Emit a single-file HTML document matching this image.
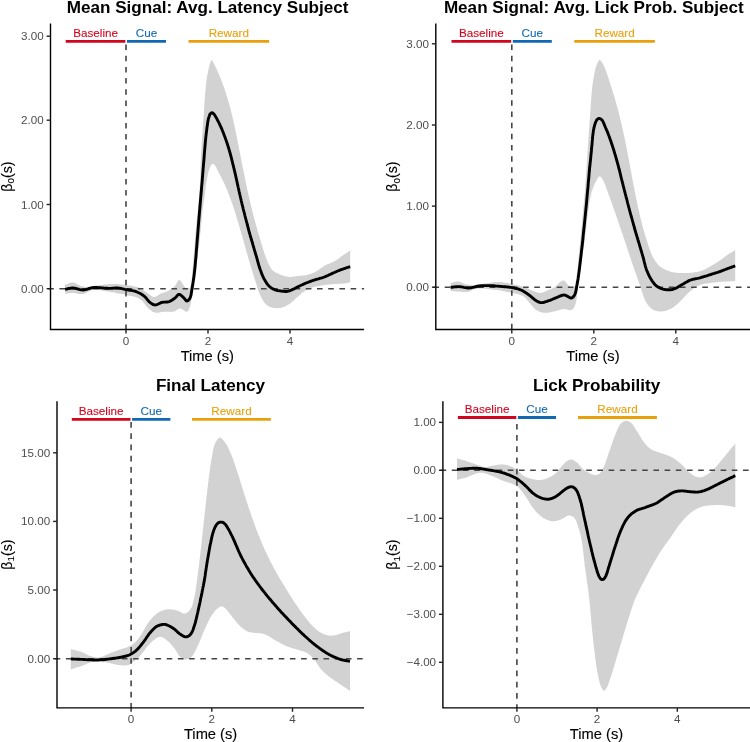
<!DOCTYPE html>
<html><head><meta charset="utf-8"><title>Figure</title>
<style>html,body{margin:0;padding:0;background:#fff}svg{display:block;will-change:transform}text{paint-order:stroke}.t{stroke:none}.a{stroke:#000;stroke-width:.12px}</style></head>
<body>
<svg width="750" height="742" viewBox="0 0 750 742" font-family="'Liberation Sans', Arial, sans-serif">
<rect width="750" height="742" fill="#fff"/>
<g>
<path d="M65.0 285.0 L66.0 284.6 L67.0 284.2 L68.0 283.8 L69.0 283.3 L70.1 282.9 L71.0 282.6 L72.0 282.4 L73.0 282.4 L73.9 282.5 L74.8 282.8 L75.7 283.3 L76.6 283.8 L77.4 284.3 L78.3 284.8 L79.1 285.2 L80.0 285.6 L80.8 285.9 L81.5 286.1 L82.2 286.3 L82.9 286.5 L83.6 286.7 L84.4 286.8 L85.2 286.9 L86.0 287.0 L87.1 287.0 L88.3 286.9 L89.5 286.7 L90.7 286.5 L92.0 286.3 L93.3 286.0 L94.6 285.8 L96.0 285.6 L97.8 285.4 L99.8 285.1 L101.8 284.9 L103.8 284.6 L105.9 284.4 L108.0 284.2 L110.0 284.1 L112.0 284.0 L113.8 284.0 L115.6 284.0 L117.3 284.1 L119.1 284.2 L120.8 284.4 L122.5 284.6 L124.3 284.8 L126.0 285.0 L127.8 285.3 L129.7 285.5 L131.5 285.8 L133.4 286.2 L135.2 286.6 L137.0 287.0 L138.6 287.5 L140.0 288.0 L140.9 288.4 L141.7 288.9 L142.4 289.4 L143.1 289.9 L143.8 290.4 L144.5 290.9 L145.2 291.5 L146.0 292.0 L146.9 292.7 L147.9 293.4 L149.0 294.2 L150.0 295.1 L151.0 295.8 L152.0 296.4 L153.0 296.8 L154.0 297.0 L154.8 296.9 L155.5 296.7 L156.3 296.3 L157.0 295.9 L157.7 295.4 L158.4 294.9 L159.2 294.4 L160.0 294.0 L160.9 293.6 L161.9 293.3 L163.0 292.9 L164.0 292.6 L165.1 292.2 L166.1 291.8 L167.1 291.4 L168.0 291.0 L168.8 290.6 L169.6 290.1 L170.4 289.7 L171.1 289.2 L171.9 288.7 L172.6 288.2 L173.3 287.6 L174.0 287.0 L174.7 286.2 L175.5 285.1 L176.1 284.0 L176.8 282.8 L177.5 281.7 L178.1 280.8 L178.8 280.2 L179.4 280.0 L180.0 280.2 L180.6 280.7 L181.2 281.4 L181.7 282.3 L182.3 283.3 L182.9 284.3 L183.4 285.2 L184.0 286.0 L184.5 286.6 L185.0 287.3 L185.6 288.0 L186.1 288.6 L186.6 289.2 L187.1 289.6 L187.6 289.9 L188.0 290.0 L188.4 289.9 L188.7 289.6 L189.1 289.2 L189.4 288.7 L189.7 288.1 L190.0 287.4 L190.2 286.7 L190.5 286.0 L190.9 284.6 L191.2 283.0 L191.5 281.2 L191.7 279.2 L191.9 277.0 L192.1 274.8 L192.3 272.4 L192.5 270.0 L192.9 265.7 L193.3 260.9 L193.8 255.6 L194.2 250.1 L194.7 244.5 L195.1 238.8 L195.5 233.3 L196.0 228.0 L196.5 223.2 L196.9 218.4 L197.4 213.6 L197.9 208.8 L198.4 204.1 L198.8 199.4 L199.2 194.7 L199.6 190.0 L199.9 185.4 L200.1 180.8 L200.3 176.2 L200.5 171.6 L200.6 167.0 L200.8 162.4 L201.0 157.8 L201.2 153.2 L201.5 148.6 L201.7 144.1 L202.0 139.5 L202.3 135.0 L202.6 130.4 L202.9 125.9 L203.3 121.3 L203.6 116.8 L203.9 112.2 L204.2 107.4 L204.5 102.5 L204.8 97.7 L205.2 93.0 L205.6 88.5 L206.0 84.3 L206.5 80.4 L206.9 77.8 L207.3 75.3 L207.8 72.8 L208.3 70.5 L208.7 68.3 L209.2 66.3 L209.7 64.6 L210.1 63.2 L210.3 62.7 L210.4 62.1 L210.6 61.6 L210.8 61.2 L210.9 60.8 L211.1 60.5 L211.3 60.3 L211.5 60.2 L211.8 60.3 L212.1 60.6 L212.4 61.0 L212.7 61.5 L213.1 62.2 L213.4 62.8 L213.8 63.6 L214.2 64.3 L215.0 65.9 L216.0 67.8 L217.0 70.0 L218.0 72.3 L219.1 74.8 L220.1 77.3 L221.1 79.7 L222.0 82.0 L222.8 84.2 L223.6 86.4 L224.4 88.6 L225.1 90.8 L225.9 93.0 L226.5 95.3 L227.2 97.5 L227.9 99.7 L228.5 101.9 L229.2 104.1 L229.8 106.4 L230.4 108.6 L231.0 110.8 L231.5 113.0 L232.1 115.3 L232.6 117.5 L233.1 119.7 L233.6 121.9 L234.1 124.1 L234.6 126.3 L235.0 128.6 L235.5 130.8 L235.9 133.0 L236.4 135.2 L236.9 137.4 L237.3 139.6 L237.7 141.8 L238.2 144.0 L238.6 146.3 L239.0 148.5 L239.5 150.7 L239.9 152.9 L240.3 155.1 L240.8 157.3 L241.2 159.5 L241.6 161.8 L242.1 164.0 L242.5 166.2 L243.0 168.4 L243.4 170.6 L243.8 172.8 L244.3 175.0 L244.7 177.2 L245.2 179.5 L245.6 181.7 L246.1 183.9 L246.5 186.1 L247.0 188.3 L247.5 190.5 L248.0 192.7 L248.5 194.9 L249.0 197.2 L249.5 199.4 L250.0 201.6 L250.6 203.8 L251.1 206.0 L251.6 208.2 L252.2 210.5 L252.8 212.7 L253.3 214.9 L253.9 217.1 L254.5 219.4 L255.1 221.6 L255.7 223.8 L256.3 226.0 L256.9 228.2 L257.5 230.5 L258.2 232.7 L258.8 234.9 L259.5 237.1 L260.1 239.3 L260.8 241.5 L261.5 243.8 L262.2 246.0 L262.9 248.4 L263.6 250.7 L264.3 252.9 L265.0 255.1 L265.8 257.2 L266.6 259.2 L267.2 260.7 L267.9 262.3 L268.5 263.8 L269.2 265.2 L269.9 266.6 L270.6 267.8 L271.4 269.0 L272.3 270.0 L273.0 270.7 L273.8 271.3 L274.7 271.9 L275.5 272.4 L276.4 272.8 L277.3 273.2 L278.2 273.6 L279.0 274.0 L279.8 274.3 L280.5 274.7 L281.3 275.0 L282.0 275.3 L282.8 275.5 L283.5 275.8 L284.3 276.0 L285.0 276.2 L285.6 276.4 L286.3 276.5 L286.9 276.6 L287.5 276.7 L288.1 276.8 L288.7 276.8 L289.4 276.9 L290.0 276.9 L290.7 276.9 L291.4 276.9 L292.1 276.8 L292.8 276.7 L293.6 276.6 L294.3 276.5 L295.1 276.4 L296.0 276.3 L297.4 276.1 L298.9 276.0 L300.5 275.8 L302.1 275.6 L303.8 275.4 L305.4 275.2 L306.9 274.9 L308.3 274.6 L309.3 274.3 L310.2 274.0 L311.1 273.7 L311.9 273.4 L312.7 273.1 L313.5 272.7 L314.3 272.4 L315.0 272.0 L315.6 271.7 L316.1 271.4 L316.6 271.1 L317.1 270.9 L317.5 270.6 L318.0 270.3 L318.5 269.9 L319.0 269.6 L319.6 269.2 L320.2 268.8 L320.8 268.3 L321.4 267.9 L322.0 267.4 L322.7 266.9 L323.4 266.5 L324.2 266.0 L325.5 265.3 L326.9 264.6 L328.5 263.9 L330.1 263.2 L331.7 262.4 L333.3 261.7 L334.8 260.9 L336.2 260.2 L337.2 259.6 L338.1 259.0 L338.9 258.4 L339.7 257.8 L340.5 257.1 L341.3 256.5 L342.2 255.9 L343.0 255.3 L343.9 254.7 L344.8 254.1 L345.7 253.5 L346.6 252.9 L347.5 252.3 L348.4 251.7 L349.3 251.1 L350.2 250.5 L350.2 282.2 L349.5 282.4 L348.8 282.5 L348.0 282.7 L347.3 282.9 L346.6 283.1 L345.9 283.2 L345.1 283.4 L344.3 283.5 L343.3 283.6 L342.2 283.7 L341.0 283.7 L339.9 283.8 L338.7 283.8 L337.5 283.9 L336.3 283.9 L335.0 284.0 L333.4 284.1 L331.8 284.3 L330.1 284.5 L328.3 284.6 L326.6 284.8 L324.9 285.0 L323.3 285.3 L321.7 285.5 L320.4 285.7 L319.2 285.9 L318.0 286.1 L316.8 286.3 L315.7 286.5 L314.5 286.8 L313.4 287.0 L312.3 287.4 L311.2 287.8 L310.2 288.2 L309.2 288.7 L308.2 289.2 L307.2 289.7 L306.2 290.2 L305.2 290.8 L304.3 291.4 L303.4 292.0 L302.6 292.6 L301.7 293.3 L300.9 294.0 L300.1 294.7 L299.3 295.4 L298.5 296.1 L297.7 296.8 L296.9 297.5 L296.0 298.3 L295.2 299.1 L294.4 299.9 L293.5 300.7 L292.7 301.4 L291.9 302.1 L291.0 302.8 L290.2 303.4 L289.4 304.0 L288.5 304.5 L287.7 305.1 L286.9 305.6 L286.0 306.0 L285.2 306.4 L284.3 306.8 L283.5 307.1 L282.7 307.4 L281.9 307.6 L281.0 307.8 L280.2 307.9 L279.4 308.1 L278.5 308.2 L277.7 308.2 L276.9 308.2 L276.0 308.2 L275.1 308.1 L274.3 308.1 L273.4 307.9 L272.6 307.8 L271.8 307.6 L271.0 307.3 L270.3 307.0 L269.6 306.7 L268.9 306.4 L268.2 306.0 L267.6 305.6 L266.9 305.1 L266.3 304.6 L265.7 304.0 L264.9 303.2 L264.2 302.2 L263.5 301.2 L262.8 300.1 L262.2 299.0 L261.5 297.8 L260.9 296.5 L260.3 295.3 L259.6 293.7 L259.0 292.1 L258.3 290.4 L257.8 288.6 L257.2 286.8 L256.6 285.0 L256.1 283.2 L255.5 281.4 L254.9 279.7 L254.4 277.9 L253.8 276.2 L253.3 274.5 L252.7 272.7 L252.2 271.0 L251.6 269.2 L251.1 267.5 L250.6 265.8 L250.0 264.0 L249.5 262.3 L249.0 260.5 L248.5 258.8 L248.0 257.0 L247.5 255.2 L247.0 253.5 L246.5 251.8 L246.0 250.0 L245.5 248.3 L245.0 246.5 L244.6 244.8 L244.1 243.1 L243.6 241.3 L243.1 239.6 L242.6 237.9 L242.1 236.1 L241.6 234.4 L241.1 232.6 L240.6 230.9 L240.1 229.2 L239.6 227.4 L239.1 225.7 L238.6 224.0 L238.1 222.2 L237.6 220.5 L237.0 218.7 L236.5 217.0 L236.0 215.3 L235.5 213.5 L234.9 211.8 L234.3 210.0 L233.8 208.3 L233.2 206.5 L232.6 204.8 L232.0 203.0 L231.4 201.3 L230.7 199.5 L230.1 197.8 L229.4 196.1 L228.8 194.3 L228.1 192.6 L227.4 190.8 L226.7 189.1 L225.9 187.4 L225.2 185.6 L224.4 183.9 L223.6 182.1 L222.6 180.2 L221.7 178.3 L220.7 176.4 L219.8 174.6 L218.9 172.9 L218.1 171.4 L217.4 170.0 L217.1 169.3 L216.8 168.7 L216.5 168.1 L216.3 167.5 L216.0 167.0 L215.8 166.5 L215.5 166.0 L215.2 165.6 L214.9 165.3 L214.6 165.0 L214.3 164.6 L214.0 164.4 L213.7 164.1 L213.4 163.9 L213.1 163.8 L212.8 163.8 L212.5 163.9 L212.2 164.0 L211.9 164.3 L211.6 164.6 L211.4 164.9 L211.1 165.2 L210.8 165.6 L210.6 166.0 L210.3 166.5 L210.0 167.1 L209.7 167.8 L209.5 168.5 L209.3 169.2 L209.1 169.9 L208.8 170.7 L208.6 171.5 L208.3 172.6 L208.0 173.8 L207.7 175.1 L207.4 176.4 L207.2 177.7 L206.9 179.1 L206.7 180.5 L206.4 182.0 L206.1 184.0 L205.8 186.0 L205.5 188.2 L205.2 190.5 L205.0 192.7 L204.7 194.9 L204.5 197.0 L204.2 199.0 L204.0 200.4 L203.8 201.8 L203.6 203.0 L203.4 204.3 L203.2 205.6 L203.0 206.9 L202.8 208.4 L202.6 210.0 L202.2 213.2 L201.9 216.8 L201.5 220.7 L201.2 224.8 L200.8 229.2 L200.3 233.6 L199.9 238.0 L199.4 242.4 L198.8 247.6 L198.0 253.1 L197.3 258.8 L196.5 264.6 L195.7 270.2 L194.9 275.7 L194.1 280.9 L193.4 285.6 L192.9 288.7 L192.5 291.8 L192.1 294.9 L191.7 297.8 L191.3 300.5 L190.9 302.9 L190.4 305.1 L189.8 307.0 L189.5 307.8 L189.2 308.6 L188.9 309.4 L188.6 310.1 L188.3 310.7 L187.9 311.2 L187.5 311.6 L187.0 311.8 L186.3 311.8 L185.5 311.5 L184.6 311.0 L183.7 310.3 L182.8 309.7 L181.8 309.1 L180.9 308.7 L180.0 308.5 L179.2 308.6 L178.5 308.9 L177.8 309.3 L177.1 309.8 L176.4 310.3 L175.6 310.8 L174.8 311.2 L174.0 311.5 L172.9 311.7 L171.7 311.8 L170.4 311.9 L169.1 311.8 L167.8 311.8 L166.5 311.8 L165.2 311.8 L164.0 311.8 L162.8 311.9 L161.7 312.1 L160.5 312.3 L159.4 312.5 L158.2 312.7 L157.1 312.8 L156.0 312.8 L155.0 312.6 L154.0 312.3 L153.1 311.9 L152.2 311.4 L151.4 310.8 L150.5 310.2 L149.7 309.5 L148.8 308.7 L148.0 308.0 L147.0 307.0 L146.1 305.9 L145.2 304.7 L144.3 303.4 L143.3 302.2 L142.3 301.0 L141.2 299.9 L140.0 299.0 L138.5 298.2 L136.9 297.5 L135.2 297.0 L133.4 296.5 L131.6 296.1 L129.7 295.8 L127.8 295.4 L126.0 295.0 L124.1 294.6 L122.1 294.1 L120.1 293.7 L118.1 293.4 L116.1 293.0 L114.1 292.6 L112.0 292.3 L110.0 292.0 L107.9 291.6 L105.7 291.2 L103.5 290.8 L101.2 290.4 L99.0 290.1 L96.9 289.9 L94.9 289.9 L93.0 290.0 L91.6 290.3 L90.3 290.8 L89.0 291.4 L87.8 292.0 L86.6 292.7 L85.5 293.2 L84.2 293.7 L83.0 294.0 L81.8 294.1 L80.5 294.0 L79.2 293.9 L78.0 293.7 L76.7 293.5 L75.4 293.2 L74.2 293.1 L73.0 293.0 L72.0 293.0 L70.9 293.1 L69.9 293.1 L68.9 293.2 L68.0 293.3 L67.0 293.4 L66.0 293.5 L65.0 293.6Z" fill="#D2D2D2"/>
<line x1="48.2" y1="288.7" x2="364.1" y2="288.7" stroke="#444444" stroke-width="1.6" stroke-dasharray="5.6 5.6"/>
<line x1="126.0" y1="44.5" x2="126.0" y2="329.5" stroke="#444444" stroke-width="1.6" stroke-dasharray="5.5 5.7"/>
<path d="M65.0 289.4 L66.0 289.2 L67.0 289.0 L68.0 288.7 L68.9 288.5 L69.9 288.3 L70.9 288.1 L72.0 288.0 L73.0 288.0 L74.2 288.1 L75.4 288.3 L76.7 288.7 L77.9 289.0 L79.2 289.4 L80.5 289.7 L81.7 289.9 L83.0 290.0 L84.3 289.9 L85.5 289.6 L86.7 289.3 L88.0 288.9 L89.2 288.5 L90.5 288.1 L91.7 287.8 L93.0 287.6 L94.3 287.5 L95.5 287.5 L96.8 287.5 L98.1 287.6 L99.4 287.7 L100.6 287.8 L101.8 287.9 L103.0 288.0 L103.9 288.1 L104.8 288.1 L105.7 288.2 L106.5 288.2 L107.4 288.3 L108.2 288.4 L109.1 288.4 L110.0 288.4 L111.0 288.4 L112.0 288.3 L113.0 288.2 L114.0 288.1 L115.0 288.0 L116.0 288.0 L117.0 288.0 L118.0 288.0 L119.0 288.1 L120.0 288.3 L121.0 288.4 L121.9 288.7 L122.9 288.9 L123.9 289.1 L125.0 289.4 L126.0 289.6 L127.2 289.8 L128.5 290.0 L129.7 290.2 L131.0 290.4 L132.3 290.6 L133.6 290.9 L134.8 291.2 L136.0 291.6 L137.1 292.0 L138.1 292.5 L139.2 293.0 L140.2 293.5 L141.2 294.1 L142.2 294.7 L143.1 295.3 L144.0 296.0 L144.8 296.7 L145.6 297.5 L146.4 298.4 L147.1 299.3 L147.8 300.2 L148.5 301.0 L149.2 301.8 L150.0 302.4 L150.6 302.9 L151.2 303.3 L151.8 303.7 L152.4 304.1 L153.0 304.5 L153.7 304.7 L154.3 304.9 L155.0 305.0 L155.8 304.9 L156.7 304.7 L157.5 304.4 L158.4 304.0 L159.3 303.5 L160.2 303.1 L161.1 302.7 L162.0 302.4 L162.9 302.2 L163.8 302.1 L164.7 302.1 L165.5 302.1 L166.4 302.0 L167.3 302.0 L168.2 301.8 L169.0 301.6 L169.8 301.3 L170.6 300.9 L171.4 300.5 L172.2 300.0 L172.9 299.5 L173.6 299.0 L174.3 298.5 L175.0 298.0 L175.6 297.5 L176.1 297.0 L176.6 296.4 L177.1 295.8 L177.5 295.3 L178.0 294.8 L178.5 294.5 L179.0 294.4 L179.5 294.4 L180.0 294.6 L180.5 294.9 L181.0 295.3 L181.5 295.7 L182.0 296.1 L182.5 296.6 L183.0 297.0 L183.5 297.5 L184.0 298.1 L184.6 298.8 L185.1 299.4 L185.6 300.0 L186.0 300.5 L186.5 300.9 L187.0 301.0 L187.4 300.9 L187.8 300.7 L188.2 300.4 L188.6 300.0 L189.0 299.6 L189.4 299.1 L189.7 298.5 L190.0 298.0 L190.4 297.2 L190.7 296.2 L191.0 295.2 L191.2 294.0 L191.4 292.8 L191.6 291.6 L191.8 290.3 L192.0 289.0 L192.3 287.1 L192.7 285.1 L193.0 283.1 L193.3 280.9 L193.7 278.6 L194.0 276.2 L194.3 273.7 L194.6 271.0 L195.1 266.5 L195.5 261.5 L196.0 256.1 L196.4 250.5 L196.9 244.7 L197.3 239.0 L197.8 233.4 L198.2 228.0 L198.6 223.1 L199.0 218.2 L199.4 213.4 L199.8 208.6 L200.2 203.8 L200.6 199.1 L201.0 194.5 L201.4 190.0 L201.7 186.0 L202.1 182.1 L202.4 178.2 L202.7 174.4 L203.0 170.6 L203.3 167.0 L203.6 163.4 L203.9 160.0 L204.1 157.3 L204.3 154.7 L204.5 152.2 L204.7 149.7 L204.9 147.3 L205.1 145.0 L205.3 142.7 L205.5 140.4 L205.7 138.5 L205.9 136.7 L206.1 134.9 L206.3 133.2 L206.5 131.5 L206.7 129.9 L206.9 128.3 L207.1 126.7 L207.3 125.5 L207.5 124.3 L207.6 123.1 L207.8 121.9 L208.0 120.8 L208.2 119.7 L208.5 118.7 L208.7 117.8 L208.9 117.2 L209.1 116.6 L209.3 116.0 L209.5 115.4 L209.7 114.9 L209.9 114.5 L210.1 114.0 L210.4 113.7 L210.6 113.5 L210.8 113.3 L211.0 113.2 L211.2 113.0 L211.5 112.9 L211.7 112.9 L211.9 112.8 L212.1 112.8 L212.3 112.8 L212.5 112.9 L212.7 113.0 L212.9 113.1 L213.1 113.3 L213.2 113.5 L213.4 113.6 L213.6 113.8 L213.8 114.0 L214.1 114.3 L214.3 114.5 L214.5 114.8 L214.7 115.1 L214.9 115.5 L215.2 115.8 L215.4 116.2 L215.8 116.9 L216.3 117.7 L216.8 118.6 L217.2 119.5 L217.7 120.5 L218.2 121.4 L218.7 122.4 L219.2 123.4 L219.7 124.5 L220.2 125.5 L220.7 126.6 L221.2 127.7 L221.7 128.8 L222.2 130.0 L222.6 131.1 L223.1 132.3 L223.6 133.6 L224.1 134.9 L224.6 136.2 L225.1 137.5 L225.6 138.9 L226.1 140.2 L226.5 141.6 L227.0 143.0 L227.5 144.5 L228.0 146.0 L228.4 147.5 L228.9 149.0 L229.3 150.5 L229.8 152.1 L230.2 153.5 L230.6 155.0 L230.9 156.3 L231.3 157.6 L231.6 158.8 L231.9 160.1 L232.2 161.3 L232.5 162.5 L232.8 163.8 L233.1 165.0 L233.4 166.2 L233.7 167.5 L234.0 168.7 L234.3 170.0 L234.6 171.2 L234.9 172.5 L235.2 173.7 L235.5 175.0 L235.8 176.3 L236.1 177.7 L236.4 179.1 L236.7 180.4 L237.0 181.8 L237.3 183.2 L237.6 184.6 L237.9 186.0 L238.2 187.5 L238.6 189.0 L238.9 190.5 L239.2 192.0 L239.6 193.5 L239.9 195.0 L240.3 196.5 L240.6 198.0 L241.0 199.5 L241.3 201.0 L241.7 202.5 L242.0 204.0 L242.4 205.5 L242.8 207.0 L243.1 208.5 L243.5 210.0 L243.9 211.5 L244.3 213.0 L244.7 214.5 L245.0 216.0 L245.4 217.5 L245.8 219.0 L246.2 220.5 L246.6 222.0 L247.0 223.4 L247.3 224.8 L247.7 226.1 L248.0 227.5 L248.4 228.9 L248.7 230.2 L249.1 231.6 L249.5 233.0 L249.9 234.5 L250.3 236.0 L250.8 237.5 L251.2 239.0 L251.7 240.5 L252.1 242.0 L252.6 243.5 L253.0 245.0 L253.4 246.5 L253.9 248.0 L254.3 249.5 L254.7 251.0 L255.2 252.5 L255.6 254.0 L256.1 255.5 L256.5 257.0 L257.0 258.6 L257.4 260.1 L257.8 261.7 L258.3 263.3 L258.7 264.9 L259.2 266.5 L259.7 268.0 L260.2 269.5 L260.7 270.8 L261.1 272.1 L261.6 273.4 L262.1 274.6 L262.6 275.8 L263.1 277.0 L263.7 278.2 L264.3 279.3 L264.9 280.3 L265.5 281.4 L266.2 282.4 L266.8 283.4 L267.5 284.3 L268.2 285.2 L269.0 286.0 L269.7 286.7 L270.3 287.2 L270.9 287.7 L271.6 288.1 L272.2 288.5 L272.9 288.9 L273.6 289.2 L274.3 289.5 L275.0 289.8 L275.8 290.1 L276.6 290.3 L277.5 290.5 L278.3 290.6 L279.2 290.8 L280.0 290.9 L280.9 291.0 L281.7 291.1 L282.4 291.2 L283.1 291.3 L283.8 291.3 L284.4 291.4 L285.1 291.5 L285.7 291.5 L286.4 291.5 L287.0 291.4 L287.5 291.3 L288.0 291.2 L288.5 291.1 L289.0 291.0 L289.5 290.8 L290.0 290.6 L290.5 290.4 L291.0 290.2 L291.8 289.9 L292.6 289.5 L293.4 289.1 L294.2 288.7 L295.1 288.2 L295.9 287.8 L296.8 287.3 L297.7 286.9 L298.7 286.4 L299.6 286.0 L300.6 285.5 L301.6 285.0 L302.6 284.6 L303.6 284.1 L304.7 283.6 L305.7 283.2 L306.8 282.7 L308.0 282.3 L309.1 281.9 L310.3 281.4 L311.5 281.0 L312.6 280.6 L313.8 280.2 L315.0 279.8 L316.2 279.4 L317.3 279.1 L318.5 278.8 L319.7 278.4 L320.9 278.1 L322.0 277.8 L323.2 277.4 L324.3 277.0 L325.3 276.6 L326.3 276.2 L327.3 275.7 L328.3 275.3 L329.3 274.8 L330.3 274.3 L331.3 273.9 L332.3 273.4 L333.4 272.9 L334.4 272.5 L335.5 272.0 L336.6 271.5 L337.7 271.0 L338.8 270.6 L339.9 270.1 L341.0 269.7 L342.1 269.3 L343.3 268.9 L344.4 268.5 L345.6 268.1 L346.7 267.7 L347.9 267.4 L349.0 267.0 L350.2 266.6" fill="none" stroke="#000" stroke-width="2.9" stroke-linejoin="round"/>
<line x1="65.7" y1="41.3" x2="125.4" y2="41.3" stroke="#D2051F" stroke-width="2.8"/>
<text x="95.6" y="36.7" font-size="11.7" fill="#D2051F" stroke="#D2051F" stroke-width=".1" text-anchor="middle">Baseline</text>
<line x1="127.0" y1="41.3" x2="166.0" y2="41.3" stroke="#1169B4" stroke-width="2.8"/>
<text x="146.5" y="36.7" font-size="11.7" fill="#1169B4" stroke="#1169B4" stroke-width=".1" text-anchor="middle">Cue</text>
<line x1="188.5" y1="41.3" x2="269.1" y2="41.3" stroke="#EAA00C" stroke-width="2.8"/>
<text x="228.8" y="36.7" font-size="11.7" fill="#EAA00C" stroke="#EAA00C" stroke-width=".1" text-anchor="middle">Reward</text>
<path d="M50.5 23.6 V329.5 H364.1" fill="none" stroke="#000" stroke-width="1.4"/>
<line x1="46.6" y1="288.7" x2="50.5" y2="288.7" stroke="#222222" stroke-width="1.4"/>
<text class="t" x="43.7" y="292.8" font-size="11.65" fill="#4D4D4D" text-anchor="end">0.00</text>
<line x1="46.6" y1="204.5" x2="50.5" y2="204.5" stroke="#222222" stroke-width="1.4"/>
<text class="t" x="43.7" y="208.6" font-size="11.65" fill="#4D4D4D" text-anchor="end">1.00</text>
<line x1="46.6" y1="120.2" x2="50.5" y2="120.2" stroke="#222222" stroke-width="1.4"/>
<text class="t" x="43.7" y="124.2" font-size="11.65" fill="#4D4D4D" text-anchor="end">2.00</text>
<line x1="46.6" y1="36.2" x2="50.5" y2="36.2" stroke="#222222" stroke-width="1.4"/>
<text class="t" x="43.7" y="40.2" font-size="11.65" fill="#4D4D4D" text-anchor="end">3.00</text>
<line x1="126.0" y1="329.5" x2="126.0" y2="333.4" stroke="#222222" stroke-width="1.4"/>
<text class="t" x="126.0" y="344.6" font-size="11.65" fill="#4D4D4D" text-anchor="middle">0</text>
<line x1="208.0" y1="329.5" x2="208.0" y2="333.4" stroke="#222222" stroke-width="1.4"/>
<text class="t" x="208.0" y="344.6" font-size="11.65" fill="#4D4D4D" text-anchor="middle">2</text>
<line x1="290.0" y1="329.5" x2="290.0" y2="333.4" stroke="#222222" stroke-width="1.4"/>
<text class="t" x="290.0" y="344.6" font-size="11.65" fill="#4D4D4D" text-anchor="middle">4</text>
<text class="a" x="207.3" y="360.7" font-size="14.7" fill="#000" text-anchor="middle">Time (s)</text>
<text class="a" transform="translate(11.6 176.6) rotate(-90)" font-size="14.2" fill="#000" text-anchor="middle">β<tspan font-size="9.9" dy="2.8">0</tspan><tspan dy="-2.8">(s)</tspan></text>
<text x="207.6" y="12.9" font-size="17.1" font-weight="bold" fill="#000" text-anchor="middle">Mean Signal: Avg. Latency Subject</text>
</g>
<g>
<path d="M450.6 283.0 L451.5 282.8 L452.5 282.5 L453.4 282.2 L454.3 281.9 L455.3 281.7 L456.2 281.5 L457.1 281.4 L458.0 281.4 L458.9 281.5 L459.8 281.8 L460.6 282.1 L461.5 282.5 L462.3 283.0 L463.2 283.4 L464.1 283.7 L465.0 284.0 L466.0 284.2 L466.9 284.4 L467.9 284.6 L468.9 284.7 L469.8 284.9 L470.9 284.9 L471.9 285.0 L473.0 285.0 L474.4 284.9 L475.8 284.8 L477.3 284.6 L478.8 284.4 L480.3 284.1 L481.9 283.9 L483.4 283.6 L485.0 283.4 L486.7 283.2 L488.4 282.9 L490.2 282.7 L492.0 282.5 L493.7 282.3 L495.5 282.1 L497.3 282.0 L499.0 282.0 L500.7 282.1 L502.3 282.2 L503.9 282.4 L505.5 282.7 L507.2 283.0 L508.8 283.3 L510.4 283.7 L512.0 284.0 L513.7 284.4 L515.3 284.7 L517.0 285.1 L518.7 285.5 L520.4 286.0 L522.0 286.4 L523.5 286.9 L525.0 287.4 L526.1 287.8 L527.2 288.3 L528.2 288.8 L529.2 289.2 L530.1 289.7 L531.1 290.2 L532.0 290.6 L533.0 291.0 L533.9 291.3 L534.8 291.7 L535.6 292.0 L536.5 292.3 L537.4 292.6 L538.3 292.8 L539.1 293.0 L540.0 293.0 L540.9 292.9 L541.7 292.7 L542.6 292.5 L543.5 292.1 L544.4 291.8 L545.2 291.4 L546.1 291.0 L547.0 290.6 L548.0 290.2 L549.0 289.8 L550.1 289.4 L551.1 289.0 L552.2 288.5 L553.2 288.1 L554.1 287.6 L555.0 287.0 L555.7 286.4 L556.4 285.8 L557.0 285.1 L557.6 284.4 L558.2 283.7 L558.8 283.0 L559.4 282.5 L560.0 282.0 L560.5 281.7 L561.0 281.4 L561.5 281.1 L562.0 280.9 L562.5 280.7 L563.0 280.6 L563.5 280.5 L564.0 280.6 L564.5 280.8 L565.0 281.3 L565.5 281.8 L566.0 282.5 L566.5 283.2 L566.9 283.8 L567.5 284.5 L568.0 285.0 L568.6 285.5 L569.2 286.0 L569.9 286.6 L570.6 287.1 L571.3 287.5 L571.9 287.9 L572.5 288.0 L573.0 288.0 L573.4 287.8 L573.8 287.4 L574.2 286.8 L574.5 286.2 L574.7 285.4 L575.0 284.7 L575.3 283.8 L575.5 283.0 L575.9 281.6 L576.2 280.0 L576.4 278.3 L576.6 276.5 L576.8 274.5 L577.0 272.5 L577.3 270.3 L577.5 268.0 L578.0 263.9 L578.4 259.3 L579.0 254.4 L579.5 249.1 L580.0 243.8 L580.5 238.4 L581.0 233.1 L581.5 228.0 L582.0 223.2 L582.4 218.4 L582.9 213.7 L583.3 208.9 L583.8 204.2 L584.2 199.4 L584.6 194.7 L585.0 190.0 L585.4 185.4 L585.7 180.8 L586.0 176.2 L586.3 171.6 L586.6 167.0 L586.9 162.4 L587.2 157.8 L587.5 153.2 L587.8 148.6 L588.1 144.0 L588.4 139.4 L588.7 134.9 L589.0 130.3 L589.4 125.7 L589.7 121.2 L590.0 116.8 L590.3 112.6 L590.6 108.4 L590.8 104.2 L591.1 100.0 L591.4 95.9 L591.8 91.9 L592.1 88.1 L592.6 84.5 L593.0 81.8 L593.4 79.0 L593.8 76.4 L594.3 73.8 L594.8 71.3 L595.3 69.1 L595.9 67.1 L596.5 65.3 L596.9 64.4 L597.2 63.5 L597.6 62.7 L598.0 61.9 L598.4 61.2 L598.8 60.7 L599.2 60.3 L599.6 60.2 L600.1 60.3 L600.5 60.6 L601.1 61.2 L601.6 61.8 L602.1 62.6 L602.6 63.5 L603.1 64.4 L603.6 65.3 L604.4 66.9 L605.2 68.9 L606.0 71.0 L606.8 73.3 L607.6 75.7 L608.4 78.1 L609.2 80.4 L609.9 82.7 L610.6 84.9 L611.3 87.0 L612.0 89.2 L612.7 91.4 L613.4 93.6 L614.0 95.7 L614.7 97.9 L615.3 100.1 L615.9 102.3 L616.5 104.4 L617.1 106.6 L617.7 108.8 L618.3 111.0 L618.8 113.1 L619.4 115.3 L619.9 117.5 L620.4 119.7 L621.0 121.8 L621.5 124.0 L622.0 126.2 L622.5 128.4 L622.9 130.5 L623.4 132.7 L623.9 134.9 L624.4 137.1 L624.8 139.2 L625.3 141.4 L625.7 143.6 L626.1 145.8 L626.6 147.9 L627.0 150.1 L627.4 152.3 L627.8 154.5 L628.2 156.7 L628.7 158.9 L629.1 161.0 L629.5 163.2 L629.9 165.4 L630.3 167.6 L630.7 169.8 L631.1 172.0 L631.5 174.2 L631.9 176.3 L632.3 178.5 L632.7 180.7 L633.2 182.9 L633.6 185.0 L634.0 187.2 L634.4 189.4 L634.8 191.6 L635.3 193.7 L635.7 195.9 L636.1 198.1 L636.6 200.3 L637.0 202.4 L637.5 204.6 L638.0 206.8 L638.4 209.0 L638.9 211.1 L639.4 213.3 L639.9 215.5 L640.4 217.7 L641.0 219.8 L641.5 222.0 L642.1 224.2 L642.7 226.4 L643.2 228.5 L643.9 230.7 L644.5 232.9 L645.1 235.1 L645.8 237.2 L646.5 239.4 L647.2 241.6 L647.9 243.9 L648.6 246.2 L649.4 248.5 L650.2 250.7 L651.0 252.9 L651.9 254.9 L652.8 256.8 L653.6 258.2 L654.4 259.6 L655.2 260.9 L656.1 262.1 L657.0 263.3 L657.9 264.4 L658.9 265.4 L660.0 266.4 L661.2 267.3 L662.4 268.1 L663.7 268.9 L665.1 269.6 L666.5 270.2 L667.9 270.8 L669.4 271.3 L670.8 271.7 L672.2 272.1 L673.7 272.4 L675.2 272.6 L676.7 272.8 L678.2 272.9 L679.8 273.0 L681.3 273.1 L682.8 273.1 L684.3 273.1 L685.9 273.1 L687.4 273.0 L688.9 273.0 L690.5 272.8 L692.0 272.7 L693.4 272.5 L694.8 272.3 L695.9 272.1 L697.0 271.9 L698.0 271.7 L699.0 271.5 L700.0 271.2 L701.0 270.9 L702.0 270.6 L703.0 270.2 L704.1 269.7 L705.3 269.2 L706.5 268.6 L707.6 267.9 L708.8 267.2 L709.9 266.6 L711.0 265.9 L712.1 265.3 L713.0 264.8 L713.9 264.3 L714.7 263.8 L715.6 263.3 L716.4 262.7 L717.2 262.2 L718.0 261.7 L718.8 261.2 L719.5 260.7 L720.2 260.2 L720.9 259.7 L721.6 259.2 L722.3 258.7 L722.9 258.2 L723.6 257.7 L724.3 257.2 L725.0 256.7 L725.7 256.2 L726.4 255.7 L727.1 255.1 L727.9 254.6 L728.6 254.1 L729.3 253.7 L730.0 253.2 L730.7 252.8 L731.3 252.4 L732.0 252.0 L732.6 251.7 L733.3 251.3 L733.9 250.9 L734.6 250.6 L735.2 250.2 L735.2 281.1 L733.6 281.2 L732.1 281.2 L730.5 281.3 L728.9 281.4 L727.3 281.4 L725.8 281.5 L724.2 281.6 L722.7 281.7 L721.3 281.8 L719.9 281.9 L718.6 282.1 L717.2 282.2 L715.9 282.3 L714.6 282.5 L713.3 282.6 L712.0 282.8 L710.8 282.9 L709.6 283.1 L708.4 283.2 L707.2 283.4 L706.0 283.5 L704.9 283.7 L703.8 283.9 L702.7 284.2 L701.8 284.5 L700.9 284.7 L700.1 285.0 L699.2 285.3 L698.4 285.7 L697.6 286.1 L696.8 286.5 L696.0 286.9 L695.1 287.4 L694.3 288.0 L693.4 288.6 L692.6 289.2 L691.8 289.9 L690.9 290.6 L690.1 291.3 L689.3 292.0 L688.5 292.8 L687.6 293.6 L686.8 294.4 L686.0 295.3 L685.2 296.1 L684.3 297.0 L683.5 297.9 L682.7 298.7 L681.9 299.5 L681.0 300.4 L680.2 301.3 L679.4 302.1 L678.6 303.0 L677.7 303.8 L676.9 304.6 L676.0 305.3 L675.2 305.9 L674.4 306.5 L673.5 307.1 L672.7 307.7 L671.9 308.2 L671.0 308.7 L670.2 309.1 L669.3 309.5 L668.5 309.8 L667.7 310.1 L666.9 310.4 L666.0 310.7 L665.2 310.9 L664.4 311.1 L663.5 311.2 L662.7 311.3 L661.9 311.4 L661.0 311.4 L660.1 311.4 L659.3 311.4 L658.4 311.3 L657.6 311.2 L656.8 311.1 L656.0 310.9 L655.3 310.7 L654.6 310.4 L653.9 310.1 L653.2 309.8 L652.6 309.4 L651.9 309.0 L651.3 308.5 L650.7 308.0 L650.0 307.3 L649.2 306.5 L648.5 305.7 L647.8 304.8 L647.2 303.9 L646.5 302.9 L645.9 301.8 L645.3 300.7 L644.5 299.1 L643.8 297.3 L643.2 295.5 L642.5 293.5 L641.9 291.5 L641.3 289.4 L640.6 287.4 L640.0 285.5 L639.3 283.6 L638.7 281.7 L638.0 279.8 L637.3 278.0 L636.7 276.1 L636.0 274.2 L635.4 272.3 L634.7 270.4 L634.0 268.5 L633.4 266.6 L632.7 264.7 L632.1 262.8 L631.4 260.9 L630.8 259.0 L630.1 257.1 L629.5 255.2 L628.9 253.3 L628.2 251.4 L627.6 249.5 L627.0 247.7 L626.4 245.8 L625.8 243.9 L625.1 242.0 L624.5 240.1 L623.9 238.2 L623.2 236.3 L622.6 234.4 L621.9 232.5 L621.3 230.6 L620.6 228.7 L620.0 226.8 L619.3 224.9 L618.7 223.0 L618.0 221.1 L617.4 219.2 L616.7 217.3 L616.1 215.5 L615.4 213.6 L614.8 211.7 L614.1 209.8 L613.4 207.9 L612.8 206.0 L612.1 204.1 L611.5 202.2 L610.8 200.4 L610.1 198.5 L609.4 196.6 L608.7 194.7 L608.0 192.7 L607.2 190.6 L606.4 188.5 L605.7 186.3 L604.9 184.3 L604.1 182.4 L603.4 180.8 L602.6 179.5 L602.2 178.9 L601.8 178.3 L601.5 177.8 L601.1 177.3 L600.7 176.9 L600.3 176.6 L600.0 176.5 L599.6 176.4 L599.2 176.5 L598.8 176.8 L598.4 177.3 L598.0 177.8 L597.6 178.5 L597.3 179.1 L596.9 179.8 L596.5 180.5 L596.0 181.5 L595.4 182.5 L594.8 183.6 L594.3 184.8 L593.8 186.1 L593.2 187.4 L592.8 188.7 L592.3 190.0 L591.8 191.6 L591.4 193.1 L591.0 194.7 L590.6 196.4 L590.3 198.1 L589.9 199.9 L589.6 201.9 L589.2 204.0 L588.6 207.9 L588.0 212.2 L587.4 216.9 L586.8 221.9 L586.3 227.1 L585.7 232.3 L585.0 237.4 L584.4 242.4 L583.7 247.6 L582.9 252.9 L582.1 258.3 L581.3 263.7 L580.5 269.0 L579.7 274.1 L579.0 278.8 L578.4 283.2 L578.1 286.0 L577.8 288.6 L577.5 291.2 L577.2 293.7 L577.0 296.0 L576.7 298.2 L576.4 300.2 L576.0 302.0 L575.7 303.0 L575.5 304.0 L575.2 304.9 L574.9 305.8 L574.6 306.6 L574.3 307.3 L573.9 307.9 L573.5 308.5 L573.2 308.8 L572.9 309.1 L572.5 309.4 L572.2 309.6 L571.8 309.8 L571.4 310.0 L571.0 310.1 L570.5 310.2 L569.8 310.2 L569.1 310.1 L568.3 309.9 L567.5 309.7 L566.6 309.4 L565.7 309.2 L564.9 309.0 L564.0 309.0 L563.0 309.1 L562.1 309.2 L561.1 309.5 L560.1 309.7 L559.1 310.0 L558.1 310.4 L557.0 310.6 L556.0 310.9 L554.9 311.2 L553.7 311.4 L552.6 311.7 L551.4 312.0 L550.2 312.3 L549.1 312.5 L548.0 312.7 L547.0 312.8 L546.3 312.8 L545.7 312.8 L545.0 312.8 L544.4 312.8 L543.8 312.7 L543.2 312.7 L542.6 312.5 L542.0 312.4 L541.3 312.2 L540.5 312.0 L539.7 311.7 L539.0 311.4 L538.2 311.1 L537.5 310.7 L536.7 310.3 L536.0 309.8 L535.2 309.2 L534.4 308.5 L533.7 307.7 L533.0 306.9 L532.2 306.1 L531.5 305.2 L530.8 304.3 L530.0 303.5 L529.2 302.6 L528.4 301.6 L527.6 300.5 L526.7 299.5 L525.9 298.5 L525.0 297.6 L524.0 296.7 L523.0 296.0 L521.8 295.4 L520.5 294.9 L519.1 294.5 L517.7 294.1 L516.2 293.8 L514.8 293.6 L513.4 293.3 L512.0 293.0 L510.8 292.7 L509.7 292.4 L508.6 292.2 L507.5 291.9 L506.4 291.7 L505.3 291.4 L504.2 291.2 L503.0 291.0 L501.6 290.8 L500.1 290.5 L498.7 290.3 L497.2 290.1 L495.7 289.9 L494.1 289.7 L492.6 289.6 L491.0 289.4 L489.3 289.2 L487.5 289.0 L485.7 288.8 L483.9 288.6 L482.1 288.5 L480.3 288.4 L478.6 288.5 L477.0 288.6 L475.6 288.9 L474.3 289.3 L473.1 289.8 L471.8 290.3 L470.6 290.9 L469.4 291.4 L468.2 291.7 L467.0 292.0 L466.0 292.1 L465.0 292.1 L464.0 292.1 L463.0 292.0 L462.0 291.9 L461.0 291.8 L460.0 291.7 L459.0 291.6 L458.0 291.5 L456.9 291.5 L455.9 291.4 L454.8 291.3 L453.8 291.2 L452.7 291.2 L451.7 291.1 L450.6 291.0Z" fill="#D2D2D2"/>
<line x1="433.5" y1="287.2" x2="752.0" y2="287.2" stroke="#444444" stroke-width="1.6" stroke-dasharray="5.6 5.6"/>
<line x1="511.8" y1="44.5" x2="511.8" y2="329.5" stroke="#444444" stroke-width="1.6" stroke-dasharray="5.5 5.67"/>
<path d="M450.6 287.4 L451.6 287.3 L452.7 287.2 L453.7 287.0 L454.8 286.9 L455.8 286.8 L456.9 286.7 L457.9 286.6 L459.0 286.6 L460.2 286.7 L461.4 286.9 L462.7 287.1 L464.0 287.4 L465.2 287.6 L466.5 287.8 L467.7 288.0 L469.0 288.0 L470.3 287.9 L471.5 287.7 L472.8 287.4 L474.0 287.1 L475.3 286.8 L476.5 286.5 L477.8 286.2 L479.0 286.0 L480.1 285.9 L481.2 285.8 L482.3 285.7 L483.4 285.6 L484.5 285.6 L485.6 285.6 L486.8 285.6 L488.0 285.6 L489.7 285.6 L491.6 285.7 L493.5 285.8 L495.5 286.0 L497.5 286.1 L499.4 286.3 L501.3 286.4 L503.0 286.6 L504.2 286.7 L505.4 286.8 L506.5 286.9 L507.7 287.0 L508.7 287.1 L509.8 287.3 L510.9 287.4 L512.0 287.6 L513.1 287.8 L514.3 288.0 L515.4 288.3 L516.6 288.6 L517.7 288.9 L518.8 289.2 L519.9 289.6 L521.0 290.0 L522.1 290.5 L523.1 291.1 L524.1 291.7 L525.1 292.3 L526.1 293.0 L527.1 293.6 L528.0 294.3 L529.0 295.0 L529.9 295.7 L530.8 296.4 L531.7 297.2 L532.6 298.0 L533.5 298.7 L534.3 299.4 L535.2 300.1 L536.0 300.6 L536.6 301.0 L537.2 301.3 L537.8 301.6 L538.4 301.9 L539.0 302.2 L539.7 302.4 L540.3 302.5 L541.0 302.6 L541.9 302.6 L542.9 302.5 L543.9 302.3 L544.9 302.0 L545.9 301.6 L547.0 301.3 L548.0 300.9 L549.0 300.6 L550.0 300.3 L551.0 299.9 L552.0 299.5 L553.0 299.0 L554.0 298.6 L555.0 298.2 L556.0 297.8 L557.0 297.4 L557.9 297.0 L558.8 296.6 L559.7 296.2 L560.6 295.8 L561.5 295.5 L562.4 295.2 L563.2 295.1 L564.0 295.0 L564.6 295.1 L565.1 295.2 L565.6 295.4 L566.1 295.6 L566.6 295.9 L567.1 296.1 L567.5 296.4 L568.0 296.6 L568.4 296.8 L568.9 297.0 L569.3 297.3 L569.7 297.6 L570.2 297.8 L570.6 297.9 L571.0 298.0 L571.4 298.0 L571.8 297.9 L572.3 297.6 L572.7 297.3 L573.1 297.0 L573.5 296.5 L573.9 296.1 L574.3 295.5 L574.6 295.0 L575.0 294.1 L575.4 293.0 L575.7 291.8 L576.0 290.5 L576.3 289.2 L576.5 287.8 L576.7 286.4 L577.0 285.0 L577.3 283.3 L577.6 281.6 L577.9 279.9 L578.2 278.2 L578.4 276.3 L578.7 274.4 L579.0 272.3 L579.3 270.0 L579.8 265.8 L580.4 260.9 L581.0 255.7 L581.6 250.2 L582.3 244.5 L582.9 238.9 L583.4 233.3 L584.0 228.0 L584.5 223.1 L585.0 218.1 L585.5 213.1 L586.0 208.2 L586.5 203.3 L586.9 198.6 L587.3 194.2 L587.7 190.0 L588.0 187.1 L588.2 184.2 L588.4 181.5 L588.7 178.8 L588.9 176.3 L589.1 173.8 L589.3 171.5 L589.5 169.4 L589.6 168.1 L589.8 166.8 L589.9 165.7 L590.0 164.6 L590.1 163.5 L590.2 162.4 L590.4 161.3 L590.5 160.0 L590.7 158.3 L590.8 156.5 L591.0 154.7 L591.2 152.8 L591.4 150.9 L591.5 149.0 L591.7 147.1 L591.9 145.3 L592.1 143.5 L592.2 141.7 L592.4 139.9 L592.5 138.2 L592.7 136.4 L592.9 134.7 L593.1 133.1 L593.3 131.5 L593.5 130.3 L593.7 129.1 L594.0 127.9 L594.2 126.8 L594.5 125.7 L594.8 124.6 L595.1 123.7 L595.4 122.8 L595.6 122.3 L595.8 121.7 L596.1 121.2 L596.3 120.8 L596.6 120.3 L596.8 119.9 L597.1 119.6 L597.4 119.3 L597.6 119.1 L597.9 118.9 L598.1 118.8 L598.4 118.7 L598.6 118.6 L598.9 118.5 L599.1 118.5 L599.4 118.5 L599.7 118.6 L600.1 118.7 L600.4 118.8 L600.8 119.0 L601.1 119.3 L601.5 119.6 L601.8 119.9 L602.1 120.2 L602.5 120.7 L602.9 121.4 L603.2 122.1 L603.6 122.8 L603.9 123.6 L604.2 124.5 L604.6 125.3 L604.9 126.1 L605.3 127.0 L605.7 128.0 L606.1 128.9 L606.5 129.9 L607.0 130.9 L607.4 131.9 L607.8 132.9 L608.2 134.0 L608.7 135.3 L609.2 136.6 L609.7 138.0 L610.2 139.4 L610.7 140.8 L611.2 142.2 L611.6 143.6 L612.1 145.0 L612.6 146.4 L613.0 147.8 L613.4 149.1 L613.9 150.5 L614.3 151.9 L614.7 153.3 L615.1 154.6 L615.5 156.0 L615.9 157.3 L616.2 158.5 L616.6 159.8 L616.9 161.0 L617.3 162.3 L617.6 163.5 L618.0 164.8 L618.3 166.0 L618.6 167.2 L618.9 168.5 L619.3 169.7 L619.6 171.0 L619.9 172.2 L620.2 173.5 L620.5 174.7 L620.8 176.0 L621.1 177.4 L621.5 178.7 L621.8 180.1 L622.2 181.5 L622.5 182.9 L622.9 184.2 L623.2 185.6 L623.6 187.0 L623.9 188.4 L624.3 189.7 L624.6 191.1 L625.0 192.5 L625.3 193.8 L625.7 195.2 L626.0 196.6 L626.4 198.0 L626.8 199.5 L627.2 201.0 L627.5 202.5 L627.9 204.0 L628.3 205.5 L628.7 207.0 L629.1 208.5 L629.5 210.0 L629.9 211.5 L630.3 213.0 L630.7 214.5 L631.1 216.0 L631.6 217.5 L632.0 219.0 L632.4 220.5 L632.8 222.0 L633.2 223.4 L633.6 224.8 L634.0 226.1 L634.3 227.5 L634.7 228.9 L635.1 230.2 L635.5 231.6 L635.9 233.0 L636.3 234.5 L636.8 236.0 L637.2 237.5 L637.7 239.0 L638.1 240.5 L638.6 242.0 L639.1 243.5 L639.5 245.0 L639.9 246.5 L640.4 248.0 L640.8 249.5 L641.3 251.0 L641.7 252.4 L642.1 253.9 L642.6 255.5 L643.0 257.0 L643.5 258.7 L643.9 260.4 L644.3 262.1 L644.8 263.8 L645.2 265.6 L645.7 267.3 L646.2 268.9 L646.8 270.5 L647.4 271.9 L648.0 273.3 L648.6 274.6 L649.2 275.9 L649.9 277.2 L650.6 278.4 L651.3 279.6 L652.0 280.7 L652.6 281.6 L653.2 282.4 L653.8 283.2 L654.5 284.0 L655.1 284.7 L655.8 285.4 L656.5 286.0 L657.3 286.6 L658.1 287.1 L658.9 287.5 L659.7 287.9 L660.5 288.3 L661.4 288.6 L662.3 288.9 L663.1 289.1 L664.0 289.3 L664.8 289.5 L665.7 289.6 L666.5 289.7 L667.4 289.8 L668.2 289.8 L669.1 289.8 L669.9 289.8 L670.7 289.7 L671.4 289.6 L672.1 289.5 L672.7 289.3 L673.4 289.1 L674.0 288.9 L674.7 288.7 L675.3 288.4 L676.0 288.1 L676.8 287.7 L677.6 287.3 L678.4 286.8 L679.3 286.3 L680.1 285.8 L681.0 285.2 L681.8 284.7 L682.7 284.2 L683.7 283.7 L684.6 283.1 L685.6 282.5 L686.6 282.0 L687.6 281.4 L688.6 280.9 L689.6 280.4 L690.7 280.0 L691.8 279.6 L692.9 279.3 L694.1 279.1 L695.2 278.8 L696.4 278.6 L697.6 278.4 L698.8 278.1 L700.0 277.8 L701.3 277.4 L702.6 277.0 L704.0 276.6 L705.4 276.2 L706.7 275.8 L708.1 275.3 L709.4 274.9 L710.7 274.5 L711.9 274.1 L713.1 273.7 L714.3 273.4 L715.5 273.0 L716.6 272.6 L717.8 272.3 L718.9 271.9 L720.0 271.5 L720.9 271.2 L721.8 270.8 L722.7 270.5 L723.5 270.2 L724.4 269.8 L725.2 269.5 L726.1 269.1 L727.0 268.8 L728.0 268.4 L729.0 268.1 L730.0 267.7 L731.1 267.3 L732.1 266.9 L733.1 266.6 L734.2 266.2 L735.2 265.8" fill="none" stroke="#000" stroke-width="2.9" stroke-linejoin="round"/>
<line x1="451.5" y1="41.3" x2="511.2" y2="41.3" stroke="#D2051F" stroke-width="2.8"/>
<text x="481.4" y="36.7" font-size="11.7" fill="#D2051F" stroke="#D2051F" stroke-width=".1" text-anchor="middle">Baseline</text>
<line x1="512.8" y1="41.3" x2="551.8" y2="41.3" stroke="#1169B4" stroke-width="2.8"/>
<text x="532.3" y="36.7" font-size="11.7" fill="#1169B4" stroke="#1169B4" stroke-width=".1" text-anchor="middle">Cue</text>
<line x1="574.3" y1="41.3" x2="654.9" y2="41.3" stroke="#EAA00C" stroke-width="2.8"/>
<text x="614.6" y="36.7" font-size="11.7" fill="#EAA00C" stroke="#EAA00C" stroke-width=".1" text-anchor="middle">Reward</text>
<path d="M435.8 23.6 V329.5 H752.0" fill="none" stroke="#000" stroke-width="1.4"/>
<line x1="431.9" y1="287.2" x2="435.8" y2="287.2" stroke="#222222" stroke-width="1.4"/>
<text class="t" x="429.0" y="291.2" font-size="11.65" fill="#4D4D4D" text-anchor="end">0.00</text>
<line x1="431.9" y1="206.1" x2="435.8" y2="206.1" stroke="#222222" stroke-width="1.4"/>
<text class="t" x="429.0" y="210.2" font-size="11.65" fill="#4D4D4D" text-anchor="end">1.00</text>
<line x1="431.9" y1="125.0" x2="435.8" y2="125.0" stroke="#222222" stroke-width="1.4"/>
<text class="t" x="429.0" y="129.1" font-size="11.65" fill="#4D4D4D" text-anchor="end">2.00</text>
<line x1="431.9" y1="43.8" x2="435.8" y2="43.8" stroke="#222222" stroke-width="1.4"/>
<text class="t" x="429.0" y="47.8" font-size="11.65" fill="#4D4D4D" text-anchor="end">3.00</text>
<line x1="511.8" y1="329.5" x2="511.8" y2="333.4" stroke="#222222" stroke-width="1.4"/>
<text class="t" x="511.8" y="344.6" font-size="11.65" fill="#4D4D4D" text-anchor="middle">0</text>
<line x1="593.8" y1="329.5" x2="593.8" y2="333.4" stroke="#222222" stroke-width="1.4"/>
<text class="t" x="593.8" y="344.6" font-size="11.65" fill="#4D4D4D" text-anchor="middle">2</text>
<line x1="675.8" y1="329.5" x2="675.8" y2="333.4" stroke="#222222" stroke-width="1.4"/>
<text class="t" x="675.8" y="344.6" font-size="11.65" fill="#4D4D4D" text-anchor="middle">4</text>
<text class="a" x="592.9" y="360.7" font-size="14.7" fill="#000" text-anchor="middle">Time (s)</text>
<text class="a" transform="translate(397.3 176.6) rotate(-90)" font-size="14.2" fill="#000" text-anchor="middle">β<tspan font-size="9.9" dy="2.8">0</tspan><tspan dy="-2.8">(s)</tspan></text>
<text x="593.8" y="12.9" font-size="17.1" font-weight="bold" fill="#000" text-anchor="middle">Mean Signal: Avg. Lick Prob. Subject</text>
</g>
<g>
<path d="M70.8 649.1 L72.2 649.5 L73.5 649.8 L74.9 650.1 L76.3 650.5 L77.6 650.8 L79.0 651.2 L80.3 651.6 L81.6 652.0 L82.8 652.5 L84.1 653.1 L85.3 653.7 L86.5 654.3 L87.7 654.9 L88.8 655.4 L90.0 655.9 L91.2 656.3 L92.3 656.6 L93.3 656.8 L94.4 657.1 L95.4 657.2 L96.5 657.4 L97.5 657.4 L98.6 657.4 L99.6 657.3 L100.7 657.1 L101.7 656.8 L102.7 656.4 L103.7 655.9 L104.7 655.4 L105.8 654.9 L106.9 654.4 L108.0 653.9 L109.4 653.4 L110.9 652.8 L112.4 652.3 L113.9 651.8 L115.4 651.2 L117.0 650.7 L118.5 650.1 L120.0 649.6 L121.5 649.1 L122.9 648.6 L124.4 648.2 L125.9 647.7 L127.3 647.2 L128.7 646.6 L130.0 646.0 L131.3 645.3 L132.4 644.5 L133.5 643.7 L134.5 642.8 L135.5 641.9 L136.4 640.9 L137.3 639.9 L138.3 638.8 L139.2 637.6 L140.4 635.9 L141.6 634.0 L142.8 632.0 L143.9 629.9 L145.1 627.8 L146.3 625.7 L147.5 623.8 L148.8 622.0 L149.9 620.6 L151.1 619.2 L152.2 617.9 L153.4 616.6 L154.6 615.4 L155.9 614.3 L157.1 613.3 L158.4 612.4 L159.5 611.8 L160.7 611.2 L161.9 610.7 L163.1 610.3 L164.3 609.9 L165.6 609.6 L166.8 609.4 L168.0 609.3 L169.2 609.3 L170.4 609.3 L171.7 609.4 L172.9 609.6 L174.1 609.8 L175.3 610.1 L176.5 610.4 L177.6 610.7 L178.6 611.0 L179.5 611.5 L180.4 612.0 L181.4 612.5 L182.2 613.0 L183.1 613.4 L184.0 613.6 L184.8 613.6 L185.6 613.4 L186.4 613.0 L187.3 612.5 L188.0 611.9 L188.8 611.2 L189.5 610.5 L190.2 609.6 L190.8 608.8 L191.5 607.6 L192.0 606.3 L192.5 604.9 L193.0 603.3 L193.3 601.7 L193.7 600.1 L194.0 598.4 L194.4 596.8 L194.8 594.9 L195.2 593.0 L195.5 591.0 L195.8 589.0 L196.1 587.0 L196.4 584.8 L196.7 582.6 L197.0 580.3 L197.4 577.1 L197.9 573.7 L198.3 570.1 L198.8 566.4 L199.3 562.6 L199.7 558.8 L200.2 555.0 L200.6 551.2 L201.1 547.1 L201.5 542.9 L202.0 538.6 L202.5 534.3 L202.9 530.0 L203.4 525.7 L203.8 521.4 L204.3 517.2 L204.7 513.2 L205.2 509.2 L205.6 505.1 L206.1 501.2 L206.5 497.2 L207.0 493.3 L207.4 489.4 L207.9 485.6 L208.3 482.1 L208.7 478.6 L209.2 475.1 L209.6 471.7 L210.0 468.4 L210.5 465.1 L211.0 462.0 L211.5 459.0 L211.9 456.8 L212.3 454.5 L212.7 452.4 L213.0 450.3 L213.5 448.3 L214.0 446.4 L214.5 444.7 L215.2 443.2 L215.7 442.2 L216.3 441.3 L216.8 440.3 L217.4 439.5 L218.1 438.7 L218.7 438.1 L219.4 437.8 L220.0 437.6 L220.7 437.7 L221.4 438.1 L222.1 438.7 L222.8 439.5 L223.6 440.4 L224.3 441.3 L224.9 442.3 L225.6 443.2 L226.4 444.3 L227.1 445.5 L227.8 446.8 L228.4 448.1 L229.1 449.6 L229.7 451.0 L230.3 452.5 L231.0 454.1 L231.9 456.3 L232.8 458.6 L233.6 461.1 L234.5 463.6 L235.4 466.2 L236.3 468.9 L237.1 471.5 L238.0 474.1 L238.9 476.8 L239.8 479.6 L240.6 482.3 L241.5 485.1 L242.4 487.9 L243.2 490.7 L244.1 493.5 L245.0 496.2 L245.9 498.9 L246.7 501.5 L247.6 504.2 L248.5 506.9 L249.3 509.5 L250.2 512.1 L251.1 514.7 L252.0 517.3 L252.9 519.7 L253.7 522.1 L254.6 524.5 L255.4 526.9 L256.3 529.2 L257.2 531.5 L258.1 533.8 L259.0 536.1 L259.9 538.2 L260.7 540.3 L261.6 542.3 L262.4 544.4 L263.3 546.4 L264.2 548.4 L265.1 550.4 L266.0 552.3 L266.9 554.1 L267.7 555.9 L268.6 557.7 L269.5 559.4 L270.3 561.2 L271.2 562.9 L272.1 564.6 L273.0 566.3 L273.9 567.9 L274.7 569.5 L275.6 571.1 L276.5 572.7 L277.3 574.3 L278.2 575.8 L279.1 577.4 L280.0 578.9 L280.9 580.4 L281.7 581.8 L282.6 583.3 L283.5 584.7 L284.4 586.1 L285.2 587.6 L286.1 589.0 L287.0 590.4 L287.9 591.8 L288.7 593.2 L289.6 594.6 L290.5 596.0 L291.4 597.3 L292.2 598.7 L293.1 600.1 L294.0 601.4 L294.9 602.7 L295.7 604.0 L296.6 605.3 L297.5 606.6 L298.3 607.8 L299.2 609.1 L300.1 610.4 L301.0 611.6 L301.9 612.8 L302.7 614.0 L303.6 615.2 L304.5 616.3 L305.3 617.5 L306.2 618.6 L307.1 619.7 L308.0 620.8 L308.9 621.8 L309.7 622.8 L310.6 623.7 L311.4 624.7 L312.3 625.6 L313.2 626.5 L314.1 627.4 L315.0 628.2 L315.8 628.9 L316.7 629.7 L317.6 630.4 L318.4 631.0 L319.3 631.7 L320.2 632.3 L321.1 632.8 L322.0 633.3 L322.8 633.7 L323.7 634.1 L324.6 634.5 L325.5 634.8 L326.3 635.1 L327.2 635.3 L328.1 635.5 L329.0 635.6 L329.9 635.7 L330.7 635.7 L331.6 635.6 L332.5 635.6 L333.4 635.5 L334.3 635.3 L335.1 635.2 L336.0 635.0 L336.9 634.8 L337.8 634.5 L338.6 634.3 L339.5 634.0 L340.4 633.7 L341.2 633.3 L342.1 633.1 L343.0 632.8 L343.9 632.6 L344.7 632.4 L345.6 632.2 L346.5 632.0 L347.4 631.8 L348.2 631.6 L349.1 631.4 L350.0 631.2 L350.0 690.9 L348.7 690.0 L347.3 689.1 L346.0 688.2 L344.7 687.3 L343.3 686.5 L342.0 685.6 L340.7 684.7 L339.4 683.8 L338.2 683.0 L336.9 682.1 L335.7 681.3 L334.4 680.4 L333.2 679.6 L332.0 678.7 L330.9 677.9 L329.7 677.0 L328.6 676.2 L327.6 675.4 L326.5 674.5 L325.5 673.7 L324.5 672.8 L323.5 672.0 L322.6 671.0 L321.6 670.0 L320.5 668.7 L319.5 667.3 L318.5 665.8 L317.5 664.3 L316.5 662.8 L315.5 661.3 L314.5 659.9 L313.5 658.7 L312.7 657.8 L312.0 657.0 L311.2 656.2 L310.4 655.5 L309.7 654.8 L308.9 654.2 L308.0 653.6 L307.1 653.0 L306.0 652.4 L304.9 652.0 L303.7 651.5 L302.5 651.2 L301.2 650.8 L299.9 650.5 L298.7 650.1 L297.4 649.7 L296.0 649.3 L294.6 648.8 L293.2 648.4 L291.7 648.0 L290.3 647.6 L288.8 647.1 L287.4 646.6 L286.0 646.0 L284.6 645.3 L283.1 644.6 L281.7 643.9 L280.3 643.1 L278.8 642.3 L277.4 641.5 L276.1 640.7 L274.7 639.9 L273.4 639.2 L272.2 638.4 L270.9 637.6 L269.7 636.8 L268.4 636.0 L267.2 635.4 L266.1 634.8 L265.0 634.3 L264.3 634.0 L263.6 633.9 L263.0 633.7 L262.3 633.6 L261.7 633.5 L261.1 633.4 L260.4 633.3 L259.6 633.2 L258.4 633.1 L257.1 633.0 L255.7 632.9 L254.3 632.8 L252.9 632.7 L251.4 632.5 L250.1 632.3 L248.8 631.9 L247.6 631.4 L246.5 630.9 L245.4 630.2 L244.4 629.6 L243.4 628.8 L242.3 628.0 L241.4 627.2 L240.4 626.4 L239.4 625.5 L238.5 624.5 L237.6 623.5 L236.7 622.4 L235.8 621.3 L234.9 620.2 L234.1 619.1 L233.2 618.0 L232.3 616.9 L231.5 615.8 L230.6 614.7 L229.8 613.5 L229.0 612.4 L228.1 611.4 L227.3 610.4 L226.5 609.6 L225.9 609.0 L225.3 608.5 L224.7 607.9 L224.1 607.4 L223.6 607.0 L223.0 606.7 L222.4 606.4 L221.8 606.3 L221.3 606.3 L220.7 606.4 L220.2 606.6 L219.7 606.9 L219.2 607.2 L218.7 607.6 L218.1 608.0 L217.6 608.4 L216.9 609.0 L216.1 609.8 L215.3 610.6 L214.6 611.5 L213.8 612.4 L213.1 613.5 L212.3 614.5 L211.6 615.6 L210.7 617.1 L209.7 618.8 L208.8 620.5 L207.9 622.3 L207.0 624.2 L206.2 626.2 L205.3 628.1 L204.4 630.0 L203.5 632.1 L202.5 634.4 L201.6 636.7 L200.7 639.0 L199.8 641.2 L198.9 643.5 L197.9 645.6 L197.0 647.5 L196.3 649.0 L195.5 650.4 L194.8 651.9 L194.1 653.2 L193.3 654.5 L192.5 655.7 L191.7 656.7 L190.8 657.5 L190.1 658.0 L189.4 658.4 L188.7 658.8 L187.9 659.1 L187.2 659.3 L186.4 659.4 L185.7 659.5 L185.0 659.5 L184.3 659.4 L183.7 659.2 L183.0 658.9 L182.4 658.6 L181.8 658.2 L181.2 657.8 L180.6 657.3 L180.0 656.8 L179.3 656.1 L178.7 655.3 L178.2 654.4 L177.6 653.5 L177.0 652.5 L176.5 651.5 L175.9 650.5 L175.2 649.6 L174.4 648.5 L173.6 647.4 L172.7 646.3 L171.8 645.2 L170.9 644.1 L170.0 643.0 L169.0 642.1 L168.0 641.2 L167.1 640.4 L166.1 639.7 L165.1 638.9 L164.1 638.2 L163.1 637.6 L162.0 637.2 L161.0 636.9 L160.0 636.8 L158.9 637.0 L157.9 637.3 L156.8 637.9 L155.7 638.6 L154.7 639.4 L153.6 640.3 L152.6 641.1 L151.6 642.0 L150.5 643.0 L149.5 644.1 L148.4 645.3 L147.4 646.6 L146.4 647.8 L145.5 649.1 L144.5 650.3 L143.6 651.4 L142.9 652.3 L142.2 653.2 L141.5 654.0 L140.9 654.8 L140.2 655.7 L139.6 656.4 L138.9 657.2 L138.2 657.9 L137.6 658.5 L136.9 659.1 L136.3 659.6 L135.6 660.1 L135.0 660.6 L134.3 661.1 L133.6 661.5 L133.0 662.0 L132.4 662.4 L131.9 662.8 L131.4 663.2 L130.8 663.6 L130.3 664.0 L129.7 664.4 L129.1 664.7 L128.4 664.9 L127.5 665.1 L126.5 665.3 L125.5 665.4 L124.5 665.4 L123.4 665.4 L122.3 665.4 L121.1 665.3 L120.0 665.2 L118.6 665.0 L117.1 664.8 L115.6 664.5 L114.0 664.2 L112.4 663.8 L110.9 663.4 L109.4 663.1 L108.0 662.8 L106.9 662.6 L105.8 662.3 L104.7 662.0 L103.7 661.8 L102.7 661.5 L101.7 661.3 L100.6 661.2 L99.6 661.1 L98.6 661.1 L97.5 661.1 L96.5 661.2 L95.4 661.3 L94.4 661.4 L93.3 661.6 L92.3 661.8 L91.2 662.1 L90.0 662.4 L88.8 662.9 L87.7 663.3 L86.5 663.9 L85.3 664.4 L84.1 664.9 L82.8 665.4 L81.6 665.9 L80.3 666.4 L79.0 666.8 L77.6 667.2 L76.2 667.6 L74.9 668.1 L73.5 668.5 L72.2 668.9 L70.8 669.3Z" fill="#D2D2D2"/>
<line x1="54.7" y1="658.7" x2="364.1" y2="658.7" stroke="#444444" stroke-width="1.6" stroke-dasharray="5.6 5.6"/>
<line x1="131.1" y1="422.1" x2="131.1" y2="707.9" stroke="#444444" stroke-width="1.6" stroke-dasharray="5.7 5.54"/>
<path d="M70.8 658.9 L72.4 659.0 L74.1 659.1 L75.7 659.1 L77.4 659.2 L79.0 659.3 L80.7 659.4 L82.3 659.4 L84.0 659.5 L85.8 659.6 L87.6 659.7 L89.4 659.8 L91.2 659.9 L93.0 660.0 L94.8 660.0 L96.6 660.0 L98.4 660.0 L100.0 659.9 L101.7 659.8 L103.3 659.7 L104.9 659.5 L106.5 659.3 L108.1 659.1 L109.7 658.9 L111.2 658.7 L112.6 658.5 L114.0 658.3 L115.4 658.1 L116.8 657.9 L118.1 657.7 L119.4 657.5 L120.7 657.3 L122.0 657.0 L123.1 656.8 L124.1 656.5 L125.2 656.3 L126.2 656.0 L127.2 655.7 L128.2 655.4 L129.2 655.0 L130.1 654.6 L131.0 654.1 L131.9 653.6 L132.7 653.1 L133.6 652.5 L134.4 651.9 L135.2 651.3 L136.0 650.6 L136.8 649.9 L137.7 649.0 L138.6 648.1 L139.4 647.1 L140.3 646.1 L141.1 645.0 L141.9 644.0 L142.8 642.9 L143.6 641.8 L144.5 640.7 L145.3 639.5 L146.1 638.3 L146.9 637.0 L147.8 635.8 L148.6 634.7 L149.4 633.5 L150.3 632.5 L151.0 631.6 L151.8 630.8 L152.5 630.0 L153.3 629.2 L154.0 628.5 L154.8 627.8 L155.6 627.1 L156.5 626.6 L157.4 626.1 L158.3 625.7 L159.3 625.3 L160.3 624.9 L161.4 624.7 L162.4 624.5 L163.4 624.4 L164.4 624.4 L165.5 624.5 L166.5 624.8 L167.6 625.2 L168.7 625.7 L169.7 626.2 L170.8 626.8 L171.8 627.4 L172.8 628.0 L173.8 628.7 L174.7 629.4 L175.6 630.2 L176.5 631.0 L177.4 631.8 L178.2 632.6 L179.1 633.4 L180.0 634.0 L180.8 634.5 L181.5 635.0 L182.3 635.5 L183.1 636.0 L183.8 636.4 L184.6 636.7 L185.3 636.9 L186.0 636.9 L186.6 636.8 L187.3 636.6 L187.9 636.3 L188.6 636.0 L189.2 635.6 L189.7 635.1 L190.3 634.6 L190.8 634.0 L191.4 633.2 L191.9 632.3 L192.4 631.3 L192.8 630.3 L193.2 629.2 L193.6 628.0 L194.0 626.8 L194.4 625.6 L194.9 624.0 L195.4 622.3 L195.8 620.6 L196.3 618.7 L196.7 616.9 L197.1 615.0 L197.6 613.1 L198.0 611.2 L198.5 609.2 L198.9 607.1 L199.4 604.9 L199.9 602.8 L200.3 600.7 L200.7 598.5 L201.2 596.4 L201.6 594.4 L202.0 592.6 L202.3 590.8 L202.7 589.0 L203.0 587.3 L203.4 585.5 L203.7 583.7 L204.1 581.9 L204.4 580.0 L204.8 577.7 L205.2 575.2 L205.5 572.7 L205.9 570.2 L206.3 567.6 L206.7 565.1 L207.1 562.5 L207.5 559.9 L208.0 557.2 L208.5 554.3 L209.0 551.4 L209.5 548.6 L210.0 545.7 L210.6 543.1 L211.1 540.6 L211.6 538.3 L211.9 536.9 L212.2 535.7 L212.5 534.5 L212.8 533.3 L213.2 532.2 L213.5 531.2 L213.8 530.2 L214.2 529.2 L214.5 528.5 L214.8 527.8 L215.1 527.1 L215.4 526.5 L215.8 525.9 L216.1 525.3 L216.4 524.8 L216.8 524.3 L217.1 524.0 L217.3 523.7 L217.6 523.5 L217.9 523.2 L218.1 523.0 L218.4 522.8 L218.7 522.6 L219.0 522.5 L219.3 522.4 L219.5 522.3 L219.8 522.2 L220.1 522.2 L220.4 522.1 L220.6 522.1 L220.9 522.1 L221.2 522.1 L221.5 522.1 L221.8 522.2 L222.1 522.2 L222.4 522.3 L222.7 522.4 L222.9 522.5 L223.2 522.6 L223.5 522.8 L223.8 523.0 L224.1 523.2 L224.4 523.5 L224.7 523.8 L225.0 524.1 L225.4 524.4 L225.7 524.8 L226.0 525.2 L226.6 526.1 L227.3 527.2 L228.0 528.4 L228.8 529.7 L229.5 531.1 L230.3 532.6 L231.0 534.1 L231.8 535.6 L232.9 537.8 L234.0 540.3 L235.1 542.9 L236.2 545.5 L237.4 548.2 L238.5 550.9 L239.7 553.5 L240.9 556.0 L242.0 558.1 L243.1 560.3 L244.2 562.3 L245.4 564.4 L246.5 566.4 L247.7 568.3 L248.8 570.3 L250.0 572.2 L251.1 574.0 L252.2 575.7 L253.3 577.4 L254.5 579.0 L255.6 580.7 L256.8 582.3 L257.9 583.9 L259.1 585.5 L260.2 587.0 L261.3 588.5 L262.5 590.0 L263.6 591.4 L264.8 592.9 L265.9 594.3 L267.0 595.7 L268.2 597.1 L269.3 598.5 L270.5 599.8 L271.6 601.1 L272.7 602.5 L273.9 603.8 L275.0 605.1 L276.2 606.4 L277.3 607.7 L278.4 609.0 L279.6 610.2 L280.7 611.5 L281.8 612.7 L283.0 613.9 L284.1 615.2 L285.3 616.4 L286.4 617.6 L287.5 618.8 L288.6 620.0 L289.8 621.1 L290.9 622.3 L292.0 623.5 L293.1 624.6 L294.3 625.8 L295.4 626.9 L296.5 628.0 L297.7 629.1 L298.8 630.3 L299.9 631.4 L301.1 632.5 L302.2 633.6 L303.4 634.6 L304.5 635.7 L305.6 636.7 L306.8 637.8 L307.9 638.8 L309.0 639.8 L310.2 640.8 L311.3 641.8 L312.4 642.8 L313.6 643.7 L314.7 644.6 L315.8 645.5 L317.0 646.4 L318.1 647.2 L319.3 648.1 L320.4 648.9 L321.5 649.7 L322.7 650.5 L323.8 651.2 L324.9 652.0 L326.1 652.7 L327.2 653.4 L328.3 654.0 L329.5 654.7 L330.6 655.3 L331.8 655.9 L332.9 656.4 L334.0 657.0 L335.2 657.4 L336.3 657.9 L337.5 658.3 L338.6 658.8 L339.7 659.1 L340.9 659.5 L342.0 659.8 L343.2 660.1 L344.3 660.3 L345.4 660.5 L346.6 660.7 L347.7 660.9 L348.9 661.1 L350.0 661.3" fill="none" stroke="#000" stroke-width="2.9" stroke-linejoin="round"/>
<line x1="71.8" y1="419.4" x2="130.5" y2="419.4" stroke="#D2051F" stroke-width="2.8"/>
<text x="101.1" y="414.8" font-size="11.7" fill="#D2051F" stroke="#D2051F" stroke-width=".1" text-anchor="middle">Baseline</text>
<line x1="132.1" y1="419.4" x2="170.4" y2="419.4" stroke="#1169B4" stroke-width="2.8"/>
<text x="151.3" y="414.8" font-size="11.7" fill="#1169B4" stroke="#1169B4" stroke-width=".1" text-anchor="middle">Cue</text>
<line x1="192.0" y1="419.4" x2="270.9" y2="419.4" stroke="#EAA00C" stroke-width="2.8"/>
<text x="231.5" y="414.8" font-size="11.7" fill="#EAA00C" stroke="#EAA00C" stroke-width=".1" text-anchor="middle">Reward</text>
<path d="M57.0 401.3 V707.9 H364.1" fill="none" stroke="#000" stroke-width="1.4"/>
<line x1="53.1" y1="658.7" x2="57.0" y2="658.7" stroke="#222222" stroke-width="1.4"/>
<text class="t" x="50.2" y="662.8" font-size="11.65" fill="#4D4D4D" text-anchor="end">0.00</text>
<line x1="53.1" y1="590.0" x2="57.0" y2="590.0" stroke="#222222" stroke-width="1.4"/>
<text class="t" x="50.2" y="594.0" font-size="11.65" fill="#4D4D4D" text-anchor="end">5.00</text>
<line x1="53.1" y1="521.4" x2="57.0" y2="521.4" stroke="#222222" stroke-width="1.4"/>
<text class="t" x="50.2" y="525.4" font-size="11.65" fill="#4D4D4D" text-anchor="end">10.00</text>
<line x1="53.1" y1="452.8" x2="57.0" y2="452.8" stroke="#222222" stroke-width="1.4"/>
<text class="t" x="50.2" y="456.9" font-size="11.65" fill="#4D4D4D" text-anchor="end">15.00</text>
<line x1="131.1" y1="707.9" x2="131.1" y2="711.8" stroke="#222222" stroke-width="1.4"/>
<text class="t" x="131.1" y="723.0" font-size="11.65" fill="#4D4D4D" text-anchor="middle">0</text>
<line x1="211.8" y1="707.9" x2="211.8" y2="711.8" stroke="#222222" stroke-width="1.4"/>
<text class="t" x="211.8" y="723.0" font-size="11.65" fill="#4D4D4D" text-anchor="middle">2</text>
<line x1="292.5" y1="707.9" x2="292.5" y2="711.8" stroke="#222222" stroke-width="1.4"/>
<text class="t" x="292.5" y="723.0" font-size="11.65" fill="#4D4D4D" text-anchor="middle">4</text>
<text class="a" x="210.6" y="739.1" font-size="14.7" fill="#000" text-anchor="middle">Time (s)</text>
<text class="a" transform="translate(11.6 554.6) rotate(-90)" font-size="14.2" fill="#000" text-anchor="middle">β<tspan font-size="9.9" dy="2.8">1</tspan><tspan dy="-2.8">(s)</tspan></text>
<text x="210.5" y="390.8" font-size="17.1" font-weight="bold" fill="#000" text-anchor="middle">Final Latency</text>
</g>
<g>
<path d="M457.0 458.4 L458.1 458.7 L459.2 459.0 L460.4 459.3 L461.5 459.7 L462.6 460.0 L463.7 460.3 L464.9 460.6 L466.0 461.0 L467.2 461.4 L468.5 461.8 L469.7 462.3 L471.0 462.7 L472.3 463.1 L473.5 463.6 L474.8 464.0 L476.0 464.4 L477.1 464.8 L478.3 465.2 L479.4 465.6 L480.6 466.0 L481.7 466.4 L482.8 466.7 L483.9 466.9 L485.0 467.0 L486.0 467.0 L487.0 466.9 L488.0 466.7 L489.0 466.5 L490.0 466.3 L491.0 466.0 L492.0 465.8 L493.0 465.6 L494.1 465.4 L495.2 465.2 L496.4 465.0 L497.5 464.8 L498.6 464.6 L499.8 464.5 L500.9 464.4 L502.0 464.4 L503.0 464.5 L504.1 464.6 L505.1 464.7 L506.1 464.9 L507.1 465.1 L508.1 465.4 L509.0 465.7 L510.0 466.0 L510.9 466.4 L511.8 466.8 L512.7 467.3 L513.6 467.8 L514.4 468.3 L515.3 468.8 L516.2 469.4 L517.0 470.0 L517.9 470.7 L518.8 471.4 L519.6 472.2 L520.4 473.1 L521.3 473.9 L522.2 474.7 L523.1 475.4 L524.0 476.0 L524.9 476.5 L525.9 477.0 L526.9 477.4 L527.9 477.8 L528.9 478.1 L530.0 478.5 L531.0 478.7 L532.0 479.0 L533.0 479.2 L534.0 479.5 L535.0 479.6 L536.0 479.8 L537.0 479.9 L538.0 480.0 L539.0 480.0 L540.0 480.0 L541.0 479.9 L542.0 479.8 L543.0 479.6 L544.0 479.4 L545.0 479.1 L546.0 478.8 L547.0 478.4 L548.0 478.0 L549.0 477.5 L550.1 477.0 L551.1 476.4 L552.2 475.8 L553.2 475.2 L554.2 474.5 L555.1 473.7 L556.0 473.0 L556.8 472.2 L557.6 471.4 L558.4 470.5 L559.1 469.5 L559.9 468.6 L560.6 467.7 L561.3 466.8 L562.0 466.0 L562.6 465.3 L563.3 464.6 L563.9 463.9 L564.5 463.2 L565.1 462.6 L565.7 462.0 L566.4 461.5 L567.0 461.0 L567.5 460.7 L568.1 460.4 L568.6 460.1 L569.2 459.9 L569.7 459.7 L570.3 459.6 L570.8 459.5 L571.4 459.5 L572.1 459.6 L572.8 459.8 L573.5 460.1 L574.2 460.5 L574.9 461.0 L575.6 461.5 L576.3 462.0 L577.0 462.5 L577.8 463.2 L578.5 463.9 L579.2 464.8 L580.0 465.7 L580.7 466.6 L581.4 467.4 L582.2 468.3 L583.0 469.0 L583.8 469.7 L584.7 470.3 L585.6 470.9 L586.5 471.5 L587.4 472.1 L588.3 472.6 L589.2 473.1 L590.0 473.5 L590.7 473.8 L591.3 474.1 L591.9 474.3 L592.6 474.5 L593.2 474.7 L593.8 474.9 L594.4 475.0 L595.0 475.0 L595.5 475.0 L596.0 475.0 L596.6 474.9 L597.1 474.8 L597.6 474.7 L598.1 474.5 L598.5 474.3 L599.0 474.0 L599.6 473.6 L600.1 473.0 L600.6 472.4 L601.1 471.7 L601.6 471.0 L602.1 470.2 L602.6 469.3 L603.1 468.4 L603.9 466.7 L604.7 464.7 L605.6 462.5 L606.4 460.1 L607.2 457.7 L607.9 455.3 L608.7 452.9 L609.5 450.7 L610.2 448.7 L610.9 446.8 L611.6 444.8 L612.2 442.9 L612.9 441.0 L613.6 439.1 L614.3 437.3 L615.0 435.5 L615.6 434.0 L616.2 432.4 L616.8 430.8 L617.5 429.3 L618.1 427.9 L618.8 426.5 L619.5 425.3 L620.3 424.3 L620.9 423.6 L621.5 423.0 L622.2 422.5 L622.9 422.0 L623.5 421.5 L624.2 421.2 L624.9 420.9 L625.6 420.8 L626.3 420.8 L626.9 420.9 L627.6 421.0 L628.3 421.2 L628.9 421.6 L629.6 421.9 L630.3 422.3 L630.9 422.8 L631.8 423.6 L632.6 424.5 L633.4 425.6 L634.2 426.8 L635.0 428.0 L635.8 429.3 L636.5 430.5 L637.3 431.7 L638.1 432.9 L638.9 434.2 L639.6 435.5 L640.4 436.8 L641.1 438.1 L641.9 439.4 L642.7 440.6 L643.6 441.8 L644.5 442.9 L645.3 443.9 L646.2 445.0 L647.1 446.0 L648.1 446.9 L649.1 447.8 L650.1 448.6 L651.2 449.4 L652.3 450.1 L653.5 450.6 L654.8 451.1 L656.1 451.5 L657.4 451.9 L658.7 452.3 L660.0 452.8 L661.3 453.2 L662.6 453.7 L663.9 454.1 L665.2 454.5 L666.5 454.9 L667.8 455.4 L669.0 455.9 L670.3 456.4 L671.5 457.0 L672.7 457.7 L673.8 458.4 L674.9 459.1 L676.0 459.9 L677.1 460.7 L678.2 461.5 L679.2 462.4 L680.3 463.3 L681.4 464.3 L682.6 465.5 L683.7 466.6 L684.8 467.9 L686.0 469.0 L687.1 470.2 L688.1 471.3 L689.2 472.2 L690.0 472.9 L690.8 473.5 L691.6 474.1 L692.4 474.7 L693.2 475.3 L693.9 475.7 L694.7 476.2 L695.5 476.5 L696.1 476.7 L696.8 476.9 L697.4 477.1 L698.0 477.2 L698.7 477.3 L699.3 477.4 L699.9 477.4 L700.6 477.3 L701.4 477.2 L702.1 477.0 L702.9 476.7 L703.7 476.4 L704.5 476.0 L705.3 475.6 L706.1 475.2 L706.9 474.7 L707.9 474.1 L708.8 473.4 L709.8 472.7 L710.7 471.9 L711.7 471.0 L712.6 470.2 L713.6 469.3 L714.5 468.4 L715.5 467.4 L716.5 466.3 L717.4 465.2 L718.4 464.1 L719.3 463.0 L720.2 461.8 L721.2 460.6 L722.1 459.5 L723.1 458.3 L724.0 457.2 L725.0 456.0 L726.0 454.8 L726.9 453.6 L727.9 452.4 L728.8 451.3 L729.7 450.2 L730.4 449.3 L731.2 448.5 L731.9 447.6 L732.5 446.8 L733.2 446.0 L733.9 445.2 L734.6 444.4 L735.3 443.6 L735.3 507.5 L734.7 507.3 L734.2 507.2 L733.7 507.0 L733.1 506.9 L732.6 506.7 L732.0 506.6 L731.4 506.4 L730.8 506.3 L729.9 506.1 L729.0 506.0 L728.0 505.8 L727.0 505.7 L726.0 505.5 L724.9 505.4 L723.9 505.3 L722.8 505.2 L721.6 505.1 L720.5 505.1 L719.3 505.1 L718.1 505.1 L716.8 505.1 L715.6 505.1 L714.4 505.1 L713.2 505.2 L712.0 505.3 L710.8 505.3 L709.5 505.4 L708.3 505.5 L707.1 505.7 L705.9 505.8 L704.7 506.0 L703.6 506.3 L702.5 506.6 L701.5 506.9 L700.5 507.2 L699.5 507.6 L698.5 508.0 L697.5 508.5 L696.6 509.0 L695.6 509.5 L694.6 510.1 L693.5 510.8 L692.5 511.5 L691.5 512.3 L690.5 513.1 L689.5 513.9 L688.6 514.7 L687.6 515.6 L686.6 516.6 L685.6 517.6 L684.5 518.6 L683.6 519.7 L682.6 520.8 L681.6 522.0 L680.6 523.2 L679.6 524.4 L678.4 526.0 L677.2 527.6 L676.0 529.4 L674.8 531.2 L673.6 533.0 L672.4 534.8 L671.2 536.6 L670.0 538.3 L668.9 539.8 L667.9 541.3 L666.8 542.7 L665.7 544.1 L664.7 545.5 L663.6 546.9 L662.6 548.4 L661.6 549.9 L660.6 551.5 L659.5 553.1 L658.5 554.8 L657.5 556.5 L656.5 558.2 L655.6 559.9 L654.6 561.6 L653.6 563.3 L652.6 565.1 L651.5 567.0 L650.5 568.8 L649.5 570.7 L648.5 572.6 L647.5 574.5 L646.5 576.4 L645.5 578.2 L644.6 579.9 L643.7 581.7 L642.8 583.4 L641.9 585.1 L641.1 586.8 L640.2 588.5 L639.5 590.1 L638.7 591.6 L638.1 592.7 L637.6 593.7 L637.1 594.7 L636.6 595.7 L636.2 596.6 L635.7 597.7 L635.2 598.8 L634.7 600.0 L633.9 602.1 L633.1 604.4 L632.2 606.9 L631.4 609.5 L630.5 612.2 L629.7 614.9 L628.8 617.6 L628.0 620.2 L627.2 622.7 L626.4 625.2 L625.7 627.8 L624.9 630.3 L624.2 632.8 L623.4 635.3 L622.7 637.9 L621.9 640.4 L621.1 642.9 L620.4 645.5 L619.6 648.0 L618.8 650.6 L618.1 653.1 L617.3 655.6 L616.5 658.1 L615.8 660.6 L615.1 662.9 L614.4 665.2 L613.7 667.5 L613.1 669.8 L612.4 672.0 L611.7 674.2 L611.1 676.2 L610.4 678.2 L609.9 679.7 L609.4 681.1 L608.9 682.5 L608.4 683.9 L607.9 685.2 L607.4 686.4 L606.9 687.4 L606.4 688.3 L606.1 688.8 L605.9 689.2 L605.6 689.6 L605.3 690.0 L605.0 690.3 L604.8 690.6 L604.5 690.7 L604.2 690.8 L603.8 690.7 L603.4 690.4 L603.0 690.0 L602.6 689.4 L602.2 688.8 L601.8 688.1 L601.4 687.3 L601.0 686.6 L600.5 685.4 L600.0 684.0 L599.6 682.5 L599.2 680.8 L598.8 679.1 L598.4 677.3 L598.1 675.5 L597.7 673.7 L597.2 671.3 L596.8 668.8 L596.4 666.1 L596.0 663.4 L595.6 660.7 L595.2 657.8 L594.9 655.0 L594.5 652.1 L594.1 648.8 L593.7 645.3 L593.3 641.8 L592.9 638.3 L592.6 634.7 L592.2 631.1 L591.9 627.5 L591.5 624.0 L591.2 620.5 L590.9 617.0 L590.6 613.6 L590.3 610.1 L590.0 606.6 L589.6 603.1 L589.3 599.6 L588.9 596.1 L588.5 592.4 L588.0 588.6 L587.4 584.8 L586.9 580.9 L586.4 577.1 L585.8 573.3 L585.3 569.6 L584.8 565.9 L584.4 562.5 L584.0 559.1 L583.6 555.6 L583.3 552.2 L582.9 548.9 L582.5 545.7 L582.1 542.7 L581.6 540.0 L581.3 538.3 L580.9 536.6 L580.6 535.1 L580.2 533.6 L579.8 532.2 L579.4 530.8 L579.0 529.4 L578.5 528.0 L578.0 526.6 L577.6 525.1 L577.1 523.6 L576.6 522.1 L576.0 520.7 L575.4 519.5 L574.8 518.4 L574.0 517.5 L573.4 517.0 L572.8 516.6 L572.1 516.2 L571.4 516.0 L570.7 515.8 L569.9 515.6 L569.2 515.6 L568.5 515.6 L567.7 515.8 L566.9 516.1 L566.1 516.5 L565.3 517.0 L564.5 517.6 L563.7 518.1 L562.9 518.6 L562.0 519.0 L561.0 519.4 L560.0 519.7 L559.0 520.1 L558.0 520.4 L556.9 520.7 L555.9 520.9 L554.9 521.1 L554.0 521.2 L553.3 521.2 L552.7 521.2 L552.1 521.2 L551.5 521.1 L550.9 521.0 L550.3 520.9 L549.7 520.7 L549.0 520.5 L548.1 520.2 L547.2 519.9 L546.3 519.5 L545.3 519.0 L544.4 518.5 L543.4 518.0 L542.5 517.4 L541.6 516.8 L540.5 516.0 L539.5 515.1 L538.4 514.1 L537.4 513.0 L536.4 512.0 L535.4 510.9 L534.5 509.8 L533.6 508.7 L532.8 507.7 L532.1 506.7 L531.4 505.7 L530.8 504.7 L530.1 503.7 L529.5 502.6 L528.9 501.6 L528.2 500.6 L527.5 499.6 L526.9 498.6 L526.2 497.5 L525.5 496.5 L524.9 495.5 L524.2 494.5 L523.5 493.5 L522.8 492.6 L522.2 491.8 L521.5 490.9 L520.9 490.1 L520.2 489.3 L519.6 488.5 L518.9 487.8 L518.2 487.1 L517.4 486.5 L516.6 486.0 L515.8 485.5 L515.0 485.1 L514.1 484.7 L513.2 484.3 L512.3 484.0 L511.5 483.6 L510.6 483.3 L509.8 483.0 L509.0 482.7 L508.1 482.5 L507.3 482.2 L506.5 482.0 L505.6 481.7 L504.8 481.4 L503.9 481.1 L502.8 480.7 L501.7 480.2 L500.5 479.7 L499.3 479.2 L498.1 478.6 L496.9 478.1 L495.7 477.6 L494.5 477.1 L493.3 476.6 L492.0 476.1 L490.8 475.6 L489.5 475.0 L488.3 474.5 L487.1 474.1 L486.0 473.7 L485.0 473.4 L484.4 473.2 L483.9 473.1 L483.4 473.0 L482.9 472.9 L482.4 472.8 L482.0 472.8 L481.5 472.7 L481.0 472.7 L480.5 472.7 L480.0 472.7 L479.6 472.7 L479.1 472.8 L478.6 472.9 L478.1 472.9 L477.6 473.1 L477.0 473.2 L476.0 473.5 L474.9 473.9 L473.7 474.4 L472.5 475.0 L471.3 475.6 L470.0 476.1 L468.7 476.6 L467.5 477.1 L466.2 477.5 L464.9 477.9 L463.6 478.2 L462.3 478.5 L461.0 478.8 L459.6 479.2 L458.3 479.5 L457.0 479.8Z" fill="#D2D2D2"/>
<line x1="440.6" y1="470.3" x2="752.0" y2="470.3" stroke="#444444" stroke-width="1.6" stroke-dasharray="5.6 5.6"/>
<line x1="516.9" y1="423.9" x2="516.9" y2="707.9" stroke="#444444" stroke-width="1.6" stroke-dasharray="5.7 5.51"/>
<path d="M457.0 469.5 L458.3 469.4 L459.6 469.3 L461.0 469.1 L462.3 469.0 L463.6 468.9 L464.9 468.8 L466.2 468.7 L467.5 468.6 L468.7 468.5 L469.9 468.4 L471.1 468.4 L472.2 468.3 L473.4 468.3 L474.6 468.2 L475.8 468.3 L477.0 468.3 L478.3 468.4 L479.6 468.5 L480.9 468.7 L482.2 468.9 L483.6 469.1 L484.9 469.3 L486.3 469.6 L487.7 469.8 L489.3 470.1 L491.0 470.3 L492.8 470.6 L494.5 470.9 L496.3 471.2 L498.0 471.6 L499.6 471.9 L501.2 472.3 L502.5 472.7 L503.7 473.0 L504.9 473.4 L506.1 473.8 L507.3 474.3 L508.4 474.7 L509.5 475.1 L510.6 475.6 L511.5 476.0 L512.4 476.4 L513.2 476.8 L514.1 477.2 L514.9 477.6 L515.7 478.1 L516.6 478.6 L517.4 479.1 L518.4 479.8 L519.4 480.6 L520.4 481.4 L521.5 482.2 L522.5 483.1 L523.5 484.0 L524.5 484.9 L525.5 485.8 L526.5 486.8 L527.5 487.8 L528.5 488.8 L529.5 489.9 L530.5 490.9 L531.5 491.9 L532.5 492.9 L533.6 493.7 L534.6 494.4 L535.5 495.1 L536.5 495.7 L537.5 496.3 L538.6 496.8 L539.6 497.3 L540.6 497.7 L541.6 498.1 L542.5 498.4 L543.4 498.6 L544.4 498.8 L545.3 499.0 L546.2 499.1 L547.2 499.2 L548.1 499.2 L549.0 499.1 L549.9 499.0 L550.8 498.7 L551.7 498.5 L552.6 498.1 L553.4 497.7 L554.3 497.3 L555.2 496.9 L556.0 496.4 L556.9 495.8 L557.8 495.2 L558.7 494.5 L559.6 493.8 L560.5 493.0 L561.3 492.3 L562.2 491.6 L563.0 491.0 L563.7 490.5 L564.3 490.0 L564.9 489.5 L565.6 489.1 L566.2 488.6 L566.8 488.2 L567.4 487.9 L568.0 487.6 L568.5 487.4 L569.0 487.2 L569.5 487.0 L570.0 486.9 L570.5 486.8 L571.0 486.7 L571.5 486.7 L572.0 486.8 L572.5 486.9 L573.1 487.2 L573.6 487.4 L574.1 487.8 L574.6 488.2 L575.1 488.6 L575.6 489.1 L576.0 489.6 L576.6 490.5 L577.2 491.5 L577.7 492.6 L578.2 493.9 L578.7 495.2 L579.2 496.6 L579.6 498.0 L580.1 499.5 L580.7 501.7 L581.4 504.1 L581.9 506.6 L582.5 509.3 L583.1 512.0 L583.6 514.7 L584.2 517.5 L584.8 520.2 L585.5 523.2 L586.1 526.2 L586.8 529.2 L587.5 532.3 L588.1 535.4 L588.8 538.5 L589.5 541.5 L590.2 544.5 L590.9 547.3 L591.5 550.2 L592.2 553.0 L592.9 555.8 L593.6 558.6 L594.3 561.2 L595.0 563.7 L595.6 566.0 L596.0 567.5 L596.5 569.0 L596.9 570.5 L597.3 571.8 L597.7 573.1 L598.2 574.3 L598.6 575.4 L599.0 576.3 L599.2 576.7 L599.4 577.1 L599.7 577.5 L599.9 577.8 L600.1 578.2 L600.3 578.4 L600.6 578.7 L600.8 578.9 L601.0 579.0 L601.2 579.2 L601.4 579.3 L601.5 579.4 L601.7 579.5 L601.9 579.5 L602.1 579.6 L602.3 579.6 L602.5 579.6 L602.7 579.5 L602.9 579.5 L603.1 579.4 L603.2 579.3 L603.4 579.2 L603.6 579.0 L603.8 578.9 L604.0 578.7 L604.3 578.4 L604.5 578.2 L604.8 577.9 L605.0 577.5 L605.2 577.1 L605.5 576.7 L605.7 576.3 L606.1 575.4 L606.5 574.3 L607.0 573.1 L607.4 571.8 L607.8 570.4 L608.2 568.9 L608.6 567.5 L609.1 566.0 L609.7 564.0 L610.3 562.0 L611.0 559.8 L611.7 557.6 L612.4 555.3 L613.1 553.0 L613.8 550.7 L614.5 548.5 L615.3 546.1 L616.1 543.7 L616.9 541.2 L617.7 538.8 L618.5 536.4 L619.4 534.0 L620.3 531.7 L621.2 529.6 L622.0 527.9 L622.7 526.2 L623.5 524.6 L624.3 523.1 L625.1 521.5 L626.0 520.1 L626.9 518.8 L627.9 517.5 L628.8 516.5 L629.7 515.5 L630.7 514.6 L631.7 513.7 L632.8 512.9 L633.8 512.2 L634.9 511.5 L636.0 510.8 L637.1 510.2 L638.3 509.7 L639.4 509.3 L640.6 508.9 L641.8 508.6 L643.0 508.2 L644.3 507.8 L645.5 507.4 L646.8 506.9 L648.2 506.4 L649.6 505.9 L651.0 505.4 L652.4 504.9 L653.8 504.4 L655.1 503.8 L656.3 503.2 L657.3 502.7 L658.2 502.1 L659.0 501.6 L659.8 501.0 L660.6 500.4 L661.5 499.8 L662.4 499.2 L663.3 498.6 L664.5 497.8 L665.8 496.9 L667.2 496.0 L668.6 495.1 L669.9 494.2 L671.3 493.4 L672.7 492.7 L674.0 492.1 L675.0 491.8 L676.0 491.5 L677.0 491.3 L678.0 491.2 L679.0 491.0 L680.0 491.0 L681.0 490.9 L682.0 490.9 L683.0 490.9 L684.0 491.0 L685.0 491.1 L686.0 491.2 L687.0 491.4 L688.0 491.5 L689.0 491.6 L690.0 491.7 L691.1 491.8 L692.3 491.9 L693.5 492.0 L694.7 492.0 L695.8 492.1 L697.0 492.1 L698.2 492.0 L699.3 491.9 L700.3 491.7 L701.3 491.5 L702.3 491.2 L703.3 490.9 L704.3 490.6 L705.3 490.2 L706.3 489.8 L707.3 489.4 L708.5 488.9 L709.6 488.4 L710.8 487.8 L712.0 487.2 L713.2 486.6 L714.3 486.0 L715.5 485.4 L716.7 484.8 L717.9 484.2 L719.0 483.6 L720.2 483.0 L721.4 482.4 L722.5 481.8 L723.7 481.3 L724.8 480.7 L726.0 480.1 L727.2 479.5 L728.3 479.0 L729.5 478.4 L730.6 477.9 L731.8 477.3 L733.0 476.8 L734.1 476.2 L735.3 475.7" fill="none" stroke="#000" stroke-width="2.9" stroke-linejoin="round"/>
<line x1="457.9" y1="417.5" x2="516.3" y2="417.5" stroke="#D2051F" stroke-width="2.8"/>
<text x="487.1" y="412.9" font-size="11.7" fill="#D2051F" stroke="#D2051F" stroke-width=".1" text-anchor="middle">Baseline</text>
<line x1="517.9" y1="417.5" x2="556.0" y2="417.5" stroke="#1169B4" stroke-width="2.8"/>
<text x="537.0" y="412.9" font-size="11.7" fill="#1169B4" stroke="#1169B4" stroke-width=".1" text-anchor="middle">Cue</text>
<line x1="578.0" y1="417.5" x2="656.9" y2="417.5" stroke="#EAA00C" stroke-width="2.8"/>
<text x="617.5" y="412.9" font-size="11.7" fill="#EAA00C" stroke="#EAA00C" stroke-width=".1" text-anchor="middle">Reward</text>
<path d="M442.9 401.3 V707.9 H752.0" fill="none" stroke="#000" stroke-width="1.4"/>
<line x1="439.0" y1="422.4" x2="442.9" y2="422.4" stroke="#222222" stroke-width="1.4"/>
<text class="t" x="436.1" y="426.4" font-size="11.65" fill="#4D4D4D" text-anchor="end">1.00</text>
<line x1="439.0" y1="470.3" x2="442.9" y2="470.3" stroke="#222222" stroke-width="1.4"/>
<text class="t" x="436.1" y="474.4" font-size="11.65" fill="#4D4D4D" text-anchor="end">0.00</text>
<line x1="439.0" y1="518.3" x2="442.9" y2="518.3" stroke="#222222" stroke-width="1.4"/>
<text class="t" x="436.1" y="522.3" font-size="11.65" fill="#4D4D4D" text-anchor="end">−1.00</text>
<line x1="439.0" y1="566.3" x2="442.9" y2="566.3" stroke="#222222" stroke-width="1.4"/>
<text class="t" x="436.1" y="570.3" font-size="11.65" fill="#4D4D4D" text-anchor="end">−2.00</text>
<line x1="439.0" y1="614.3" x2="442.9" y2="614.3" stroke="#222222" stroke-width="1.4"/>
<text class="t" x="436.1" y="618.3" font-size="11.65" fill="#4D4D4D" text-anchor="end">−3.00</text>
<line x1="439.0" y1="662.3" x2="442.9" y2="662.3" stroke="#222222" stroke-width="1.4"/>
<text class="t" x="436.1" y="666.3" font-size="11.65" fill="#4D4D4D" text-anchor="end">−4.00</text>
<line x1="516.9" y1="707.9" x2="516.9" y2="711.8" stroke="#222222" stroke-width="1.4"/>
<text class="t" x="516.9" y="723.0" font-size="11.65" fill="#4D4D4D" text-anchor="middle">0</text>
<line x1="597.1" y1="707.9" x2="597.1" y2="711.8" stroke="#222222" stroke-width="1.4"/>
<text class="t" x="597.1" y="723.0" font-size="11.65" fill="#4D4D4D" text-anchor="middle">2</text>
<line x1="677.3" y1="707.9" x2="677.3" y2="711.8" stroke="#222222" stroke-width="1.4"/>
<text class="t" x="677.3" y="723.0" font-size="11.65" fill="#4D4D4D" text-anchor="middle">4</text>
<text class="a" x="596.5" y="739.1" font-size="14.7" fill="#000" text-anchor="middle">Time (s)</text>
<text class="a" transform="translate(397.3 554.6) rotate(-90)" font-size="14.2" fill="#000" text-anchor="middle">β<tspan font-size="9.9" dy="2.8">1</tspan><tspan dy="-2.8">(s)</tspan></text>
<text x="596.6" y="390.8" font-size="17.1" font-weight="bold" fill="#000" text-anchor="middle">Lick Probability</text>
</g>
</svg>
</body></html>
